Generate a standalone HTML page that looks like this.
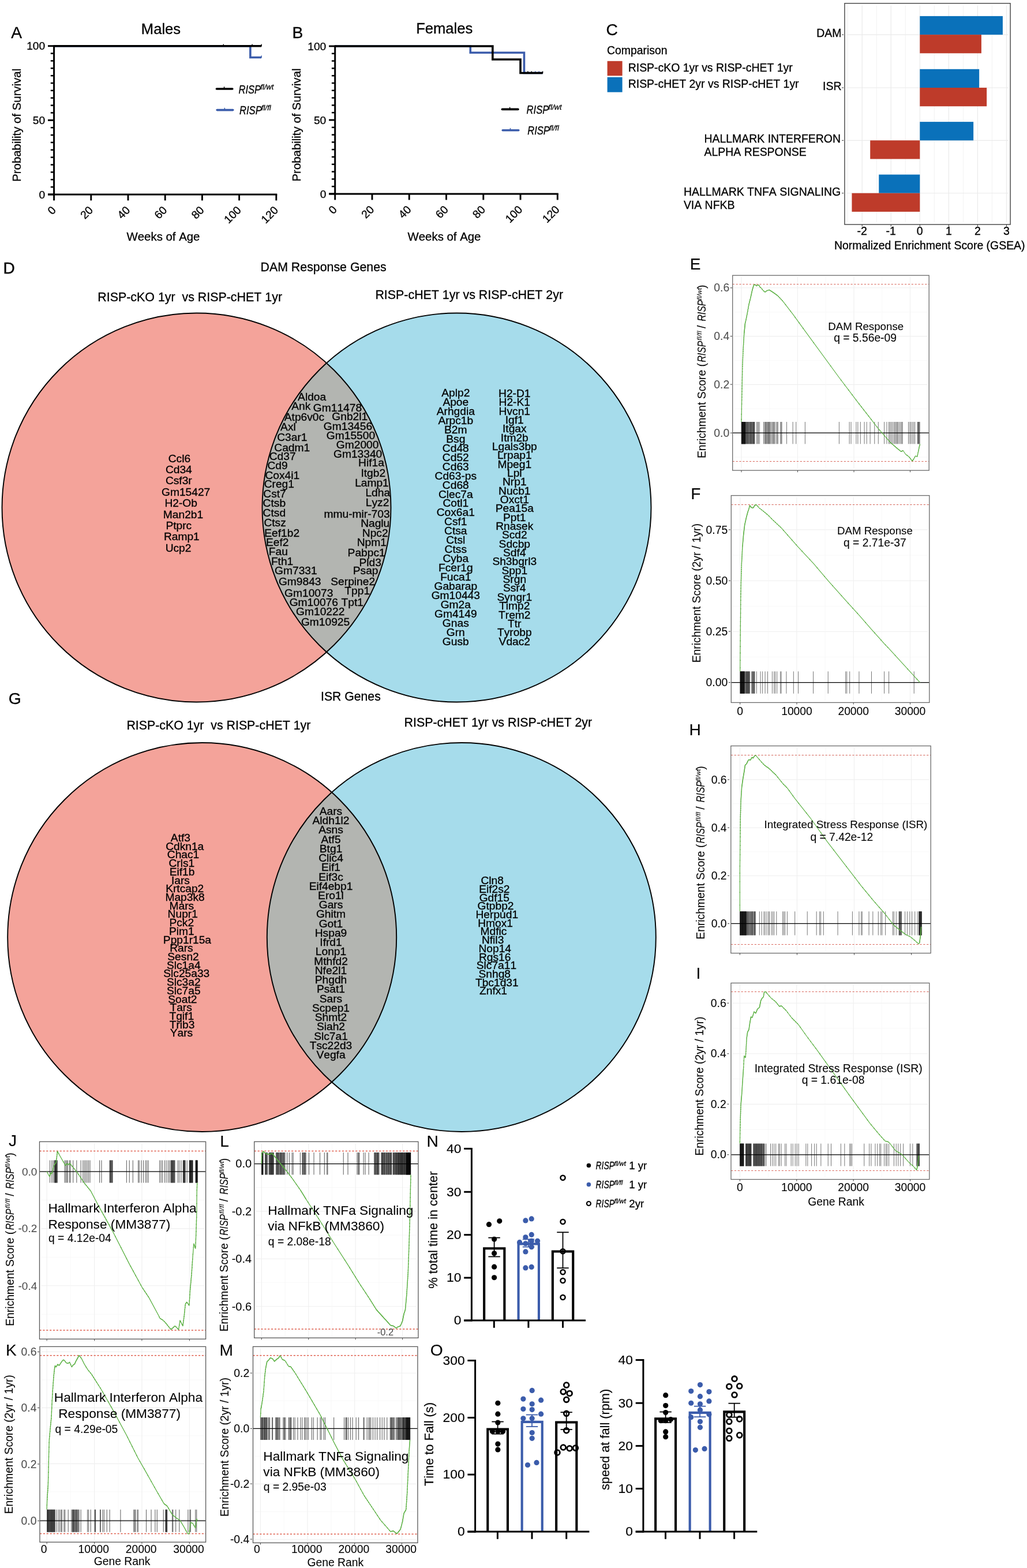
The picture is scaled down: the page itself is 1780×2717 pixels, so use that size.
<!DOCTYPE html>
<html lang="en">
<head>
<meta charset="utf-8">
<title>Figure</title>
<style>
html,body{margin:0;padding:0;background:#fff;}
body{width:1780px;height:2717px;overflow:hidden;font-family:"Liberation Sans",sans-serif;}
svg{display:block;}
svg text{font-family:"Liberation Sans",sans-serif;font-kerning:none;stroke:#000;stroke-width:.3px;}
svg text.g{stroke:#4d4d4d;}
svg .th text{stroke-width:.06px;}
svg .th2 text{stroke-width:.15px;}
.it{font-style:italic;}
</style>
</head>
<body>
<svg width="1780" height="2717" viewBox="0 0 1780 2717">
<rect width="1780" height="2717" fill="#fff"/>
<g>
<text x="19.2" y="66.45" font-size="28.2">A</text>
<text x="279" y="58.5" font-size="25.6" text-anchor="middle">Males</text>
<path d="M93.6,79.7 L433.86,79.7 L433.86,99.5 L453.12,99.5" fill="none" stroke="#3B5CAB" stroke-width="3.6" stroke-linejoin="miter"/>
<line x1="453.12" y1="96.3" x2="453.12" y2="100" stroke="#3B5CAB" stroke-width="1.4"/>
<path d="M93.6,79.7 L453.12,79.7" fill="none" stroke="#000" stroke-width="3.6" stroke-linejoin="miter"/>
<line x1="387.32" y1="76.5" x2="387.32" y2="80.2" stroke="#000" stroke-width="1.4"/>
<line x1="437.07" y1="76.5" x2="437.07" y2="80.2" stroke="#000" stroke-width="1.4"/>
<line x1="453.12" y1="76.5" x2="453.12" y2="80.2" stroke="#000" stroke-width="1.4"/>
<line x1="93.6" y1="78.2" x2="93.6" y2="338.4" stroke="#000" stroke-width="3"/>
<line x1="83" y1="336.9" x2="480.3" y2="336.9" stroke="#000" stroke-width="3"/>
<line x1="83" y1="336.9" x2="93.6" y2="336.9" stroke="#000" stroke-width="2.9"/>
<line x1="87.8" y1="324.04" x2="93.6" y2="324.04" stroke="#000" stroke-width="2.5"/>
<line x1="87.8" y1="311.18" x2="93.6" y2="311.18" stroke="#000" stroke-width="2.5"/>
<line x1="87.8" y1="298.32" x2="93.6" y2="298.32" stroke="#000" stroke-width="2.5"/>
<line x1="87.8" y1="285.46" x2="93.6" y2="285.46" stroke="#000" stroke-width="2.5"/>
<line x1="87.8" y1="272.6" x2="93.6" y2="272.6" stroke="#000" stroke-width="2.5"/>
<line x1="87.8" y1="259.74" x2="93.6" y2="259.74" stroke="#000" stroke-width="2.5"/>
<line x1="87.8" y1="246.88" x2="93.6" y2="246.88" stroke="#000" stroke-width="2.5"/>
<line x1="87.8" y1="234.02" x2="93.6" y2="234.02" stroke="#000" stroke-width="2.5"/>
<line x1="87.8" y1="221.16" x2="93.6" y2="221.16" stroke="#000" stroke-width="2.5"/>
<line x1="83" y1="208.3" x2="93.6" y2="208.3" stroke="#000" stroke-width="2.9"/>
<line x1="87.8" y1="195.44" x2="93.6" y2="195.44" stroke="#000" stroke-width="2.5"/>
<line x1="87.8" y1="182.58" x2="93.6" y2="182.58" stroke="#000" stroke-width="2.5"/>
<line x1="87.8" y1="169.72" x2="93.6" y2="169.72" stroke="#000" stroke-width="2.5"/>
<line x1="87.8" y1="156.86" x2="93.6" y2="156.86" stroke="#000" stroke-width="2.5"/>
<line x1="87.8" y1="144" x2="93.6" y2="144" stroke="#000" stroke-width="2.5"/>
<line x1="87.8" y1="131.14" x2="93.6" y2="131.14" stroke="#000" stroke-width="2.5"/>
<line x1="87.8" y1="118.28" x2="93.6" y2="118.28" stroke="#000" stroke-width="2.5"/>
<line x1="87.8" y1="105.42" x2="93.6" y2="105.42" stroke="#000" stroke-width="2.5"/>
<line x1="87.8" y1="92.56" x2="93.6" y2="92.56" stroke="#000" stroke-width="2.5"/>
<line x1="83" y1="79.7" x2="93.6" y2="79.7" stroke="#000" stroke-width="2.9"/>
<text x="78.2" y="343.6" font-size="19.2" text-anchor="end">0</text>
<text x="78.2" y="215" font-size="19.2" text-anchor="end">50</text>
<text x="78.2" y="86.4" font-size="19.2" text-anchor="end">100</text>
<line x1="93.6" y1="336.9" x2="93.6" y2="347.4" stroke="#000" stroke-width="2.9"/>
<text transform="translate(98.1,365.4) rotate(-45)" font-size="19.3" text-anchor="end">0</text>
<line x1="157.8" y1="336.9" x2="157.8" y2="347.4" stroke="#000" stroke-width="2.9"/>
<text transform="translate(162.3,365.4) rotate(-45)" font-size="19.3" text-anchor="end">20</text>
<line x1="222" y1="336.9" x2="222" y2="347.4" stroke="#000" stroke-width="2.9"/>
<text transform="translate(226.5,365.4) rotate(-45)" font-size="19.3" text-anchor="end">40</text>
<line x1="286.2" y1="336.9" x2="286.2" y2="347.4" stroke="#000" stroke-width="2.9"/>
<text transform="translate(290.7,365.4) rotate(-45)" font-size="19.3" text-anchor="end">60</text>
<line x1="350.4" y1="336.9" x2="350.4" y2="347.4" stroke="#000" stroke-width="2.9"/>
<text transform="translate(354.9,365.4) rotate(-45)" font-size="19.3" text-anchor="end">80</text>
<line x1="414.6" y1="336.9" x2="414.6" y2="347.4" stroke="#000" stroke-width="2.9"/>
<text transform="translate(419.1,365.4) rotate(-45)" font-size="19.3" text-anchor="end">100</text>
<line x1="478.8" y1="336.9" x2="478.8" y2="347.4" stroke="#000" stroke-width="2.9"/>
<text transform="translate(483.3,365.4) rotate(-45)" font-size="19.3" text-anchor="end">120</text>
<text transform="translate(35.5,216.8) rotate(-90)" font-size="20.4" text-anchor="middle">Probability of Survival</text>
<text x="283" y="417.3" font-size="20.4" text-anchor="middle">Weeks of Age</text>
<line x1="375.4" y1="154" x2="402.8" y2="154" stroke="#000" stroke-width="3.6" stroke-linecap="round"/>
<line x1="388.55" y1="150.2" x2="388.55" y2="154" stroke="#000" stroke-width="1.5"/>
<line x1="376.2" y1="190.6" x2="403.7" y2="190.6" stroke="#3B5CAB" stroke-width="3.6" stroke-linecap="round"/>
<line x1="389.35" y1="186.8" x2="389.35" y2="190.6" stroke="#3B5CAB" stroke-width="1.5"/>
<text transform="translate(413.4,161.75) scale(0.795,1)" font-size="20.9" font-style="italic">RISP</text>
<text x="451.4" y="154.69" font-size="12.7" font-style="italic" letter-spacing="0.1">fl/wt</text>
<text transform="translate(415,197.7) scale(0.795,1)" font-size="20.9" font-style="italic">RISP</text>
<text x="453" y="190.64" font-size="12.7" font-style="italic" letter-spacing="0.1">fl/fl</text>
</g>
<g>
<text x="506.6" y="66.3" font-size="28.2">B</text>
<text x="770.2" y="58.4" font-size="25.6" text-anchor="middle">Females</text>
<path d="M580.7,80 L815.27,80 L815.27,91.26 L908.46,91.26 L908.46,126.57 L940.59,126.57" fill="none" stroke="#3B5CAB" stroke-width="3.6" stroke-linejoin="miter"/>
<line x1="927.74" y1="123.37" x2="927.74" y2="127.07" stroke="#3B5CAB" stroke-width="1.4"/>
<line x1="934.17" y1="123.37" x2="934.17" y2="127.07" stroke="#3B5CAB" stroke-width="1.4"/>
<path d="M580.7,80 L853.83,80 L853.83,103.03 L902.03,103.03 L902.03,126.57 L940.59,126.57" fill="none" stroke="#000" stroke-width="3.6" stroke-linejoin="miter"/>
<line x1="914.89" y1="123.37" x2="914.89" y2="127.07" stroke="#000" stroke-width="1.4"/>
<line x1="921.31" y1="123.37" x2="921.31" y2="127.07" stroke="#000" stroke-width="1.4"/>
<line x1="940.59" y1="123.37" x2="940.59" y2="127.07" stroke="#000" stroke-width="1.4"/>
<line x1="580.7" y1="78.5" x2="580.7" y2="337.4" stroke="#000" stroke-width="3"/>
<line x1="570.1" y1="335.9" x2="967.8" y2="335.9" stroke="#000" stroke-width="3"/>
<line x1="570.1" y1="335.9" x2="580.7" y2="335.9" stroke="#000" stroke-width="2.9"/>
<line x1="574.9" y1="323.1" x2="580.7" y2="323.1" stroke="#000" stroke-width="2.5"/>
<line x1="574.9" y1="310.31" x2="580.7" y2="310.31" stroke="#000" stroke-width="2.5"/>
<line x1="574.9" y1="297.51" x2="580.7" y2="297.51" stroke="#000" stroke-width="2.5"/>
<line x1="574.9" y1="284.72" x2="580.7" y2="284.72" stroke="#000" stroke-width="2.5"/>
<line x1="574.9" y1="271.92" x2="580.7" y2="271.92" stroke="#000" stroke-width="2.5"/>
<line x1="574.9" y1="259.13" x2="580.7" y2="259.13" stroke="#000" stroke-width="2.5"/>
<line x1="574.9" y1="246.33" x2="580.7" y2="246.33" stroke="#000" stroke-width="2.5"/>
<line x1="574.9" y1="233.54" x2="580.7" y2="233.54" stroke="#000" stroke-width="2.5"/>
<line x1="574.9" y1="220.75" x2="580.7" y2="220.75" stroke="#000" stroke-width="2.5"/>
<line x1="570.1" y1="207.95" x2="580.7" y2="207.95" stroke="#000" stroke-width="2.9"/>
<line x1="574.9" y1="195.16" x2="580.7" y2="195.16" stroke="#000" stroke-width="2.5"/>
<line x1="574.9" y1="182.36" x2="580.7" y2="182.36" stroke="#000" stroke-width="2.5"/>
<line x1="574.9" y1="169.56" x2="580.7" y2="169.56" stroke="#000" stroke-width="2.5"/>
<line x1="574.9" y1="156.77" x2="580.7" y2="156.77" stroke="#000" stroke-width="2.5"/>
<line x1="574.9" y1="143.97" x2="580.7" y2="143.97" stroke="#000" stroke-width="2.5"/>
<line x1="574.9" y1="131.18" x2="580.7" y2="131.18" stroke="#000" stroke-width="2.5"/>
<line x1="574.9" y1="118.38" x2="580.7" y2="118.38" stroke="#000" stroke-width="2.5"/>
<line x1="574.9" y1="105.59" x2="580.7" y2="105.59" stroke="#000" stroke-width="2.5"/>
<line x1="574.9" y1="92.8" x2="580.7" y2="92.8" stroke="#000" stroke-width="2.5"/>
<line x1="570.1" y1="80" x2="580.7" y2="80" stroke="#000" stroke-width="2.9"/>
<text x="565.3" y="342.6" font-size="19.2" text-anchor="end">0</text>
<text x="565.3" y="214.65" font-size="19.2" text-anchor="end">50</text>
<text x="565.3" y="86.7" font-size="19.2" text-anchor="end">100</text>
<line x1="580.7" y1="335.9" x2="580.7" y2="346.4" stroke="#000" stroke-width="2.9"/>
<text transform="translate(585.2,364.4) rotate(-45)" font-size="19.3" text-anchor="end">0</text>
<line x1="644.97" y1="335.9" x2="644.97" y2="346.4" stroke="#000" stroke-width="2.9"/>
<text transform="translate(649.47,364.4) rotate(-45)" font-size="19.3" text-anchor="end">20</text>
<line x1="709.23" y1="335.9" x2="709.23" y2="346.4" stroke="#000" stroke-width="2.9"/>
<text transform="translate(713.73,364.4) rotate(-45)" font-size="19.3" text-anchor="end">40</text>
<line x1="773.5" y1="335.9" x2="773.5" y2="346.4" stroke="#000" stroke-width="2.9"/>
<text transform="translate(778,364.4) rotate(-45)" font-size="19.3" text-anchor="end">60</text>
<line x1="837.77" y1="335.9" x2="837.77" y2="346.4" stroke="#000" stroke-width="2.9"/>
<text transform="translate(842.27,364.4) rotate(-45)" font-size="19.3" text-anchor="end">80</text>
<line x1="902.03" y1="335.9" x2="902.03" y2="346.4" stroke="#000" stroke-width="2.9"/>
<text transform="translate(906.53,364.4) rotate(-45)" font-size="19.3" text-anchor="end">100</text>
<line x1="966.3" y1="335.9" x2="966.3" y2="346.4" stroke="#000" stroke-width="2.9"/>
<text transform="translate(970.8,364.4) rotate(-45)" font-size="19.3" text-anchor="end">120</text>
<text transform="translate(521,216.45) rotate(-90)" font-size="20.4" text-anchor="middle">Probability of Survival</text>
<text x="770" y="416.9" font-size="20.4" text-anchor="middle">Weeks of Age</text>
<line x1="870.4" y1="189.4" x2="897.9" y2="189.4" stroke="#000" stroke-width="3.6" stroke-linecap="round"/>
<line x1="883.6" y1="185.6" x2="883.6" y2="189.4" stroke="#000" stroke-width="1.5"/>
<line x1="871.2" y1="225.7" x2="898.8" y2="225.7" stroke="#3B5CAB" stroke-width="3.6" stroke-linecap="round"/>
<line x1="884.4" y1="221.9" x2="884.4" y2="225.7" stroke="#3B5CAB" stroke-width="1.5"/>
<text transform="translate(912.6,196.9) scale(0.795,1)" font-size="20.9" font-style="italic">RISP</text>
<text x="950.6" y="189.84" font-size="12.7" font-style="italic" letter-spacing="0.1">fl/wt</text>
<text transform="translate(914.2,232.9) scale(0.795,1)" font-size="20.9" font-style="italic">RISP</text>
<text x="952.2" y="225.84" font-size="12.7" font-style="italic" letter-spacing="0.1">fl/fl</text>
</g>
<g>
<text x="1050.4" y="61.4" font-size="28.2">C</text>
<text x="1052" y="93.8" font-size="19.4">Comparison</text>
<rect x="1052.6" y="105.8" width="26" height="25.5" fill="#BE3B2A"/>
<rect x="1052.6" y="133.7" width="26" height="26" fill="#0A71BA"/>
<text x="1088.7" y="124.1" font-size="19.45">RISP-cKO 1yr vs RISP-cHET 1yr</text>
<text x="1088.7" y="151.5" font-size="19.45">RISP-cHET 2yr vs RISP-cHET 1yr</text>
<line x1="1469.17" y1="9.4" x2="1469.17" y2="385.4" stroke="#F1F1F1" stroke-width="0.9"/>
<line x1="1519.22" y1="9.4" x2="1519.22" y2="385.4" stroke="#F1F1F1" stroke-width="0.9"/>
<line x1="1569.27" y1="9.4" x2="1569.27" y2="385.4" stroke="#F1F1F1" stroke-width="0.9"/>
<line x1="1619.33" y1="9.4" x2="1619.33" y2="385.4" stroke="#F1F1F1" stroke-width="0.9"/>
<line x1="1669.38" y1="9.4" x2="1669.38" y2="385.4" stroke="#F1F1F1" stroke-width="0.9"/>
<line x1="1719.42" y1="9.4" x2="1719.42" y2="385.4" stroke="#F1F1F1" stroke-width="0.9"/>
<line x1="1494.2" y1="9.4" x2="1494.2" y2="385.4" stroke="#EAEAEA" stroke-width="1.15"/>
<line x1="1544.25" y1="9.4" x2="1544.25" y2="385.4" stroke="#EAEAEA" stroke-width="1.15"/>
<line x1="1594.3" y1="9.4" x2="1594.3" y2="385.4" stroke="#EAEAEA" stroke-width="1.15"/>
<line x1="1644.35" y1="9.4" x2="1644.35" y2="385.4" stroke="#EAEAEA" stroke-width="1.15"/>
<line x1="1694.4" y1="9.4" x2="1694.4" y2="385.4" stroke="#EAEAEA" stroke-width="1.15"/>
<line x1="1744.45" y1="9.4" x2="1744.45" y2="385.4" stroke="#EAEAEA" stroke-width="1.15"/>
<line x1="1467.5" y1="60.1" x2="1747.5" y2="60.1" stroke="#EAEAEA" stroke-width="1.15"/>
<line x1="1467.5" y1="152" x2="1747.5" y2="152" stroke="#EAEAEA" stroke-width="1.15"/>
<line x1="1467.5" y1="243.3" x2="1747.5" y2="243.3" stroke="#EAEAEA" stroke-width="1.15"/>
<line x1="1467.5" y1="334.7" x2="1747.5" y2="334.7" stroke="#EAEAEA" stroke-width="1.15"/>
<rect x="1594.3" y="27.9" width="143.64" height="32.2" fill="#0A71BA"/>
<rect x="1594.3" y="60.1" width="106.61" height="32.2" fill="#BE3B2A"/>
<rect x="1594.3" y="119.8" width="102.85" height="32.2" fill="#0A71BA"/>
<rect x="1594.3" y="152" width="115.87" height="32.2" fill="#BE3B2A"/>
<rect x="1594.3" y="211.1" width="92.84" height="32.2" fill="#0A71BA"/>
<rect x="1508.21" y="243.3" width="86.09" height="32.2" fill="#BE3B2A"/>
<rect x="1523.23" y="302.5" width="71.07" height="32.2" fill="#0A71BA"/>
<rect x="1476.43" y="334.7" width="117.87" height="32.2" fill="#BE3B2A"/>
<rect x="1463.9" y="5.8" width="287.2" height="383.2" fill="none" stroke="#333" stroke-width="1.3"/>
<line x1="1494.2" y1="389" x2="1494.2" y2="392.5" stroke="#333" stroke-width="1"/>
<text x="1494.2" y="406.9" font-size="19.5" text-anchor="middle">-2</text>
<line x1="1544.25" y1="389" x2="1544.25" y2="392.5" stroke="#333" stroke-width="1"/>
<text x="1544.25" y="406.9" font-size="19.5" text-anchor="middle">-1</text>
<line x1="1594.3" y1="389" x2="1594.3" y2="392.5" stroke="#333" stroke-width="1"/>
<text x="1594.3" y="406.9" font-size="19.5" text-anchor="middle">0</text>
<line x1="1644.35" y1="389" x2="1644.35" y2="392.5" stroke="#333" stroke-width="1"/>
<text x="1644.35" y="406.9" font-size="19.5" text-anchor="middle">1</text>
<line x1="1694.4" y1="389" x2="1694.4" y2="392.5" stroke="#333" stroke-width="1"/>
<text x="1694.4" y="406.9" font-size="19.5" text-anchor="middle">2</text>
<line x1="1744.45" y1="389" x2="1744.45" y2="392.5" stroke="#333" stroke-width="1"/>
<text x="1744.45" y="406.9" font-size="19.5" text-anchor="middle">3</text>
<line x1="1459.1" y1="60.1" x2="1462.1" y2="60.1" stroke="#333" stroke-width="1"/>
<line x1="1459.1" y1="152" x2="1462.1" y2="152" stroke="#333" stroke-width="1"/>
<line x1="1459.1" y1="243.3" x2="1462.1" y2="243.3" stroke="#333" stroke-width="1"/>
<line x1="1459.1" y1="334.7" x2="1462.1" y2="334.7" stroke="#333" stroke-width="1"/>
<text x="1458.5" y="63.5" font-size="19.45" text-anchor="end">DAM</text>
<text x="1458.5" y="156.3" font-size="19.45" text-anchor="end">ISR</text>
<text x="1220.5" y="247.1" font-size="19.45">HALLMARK INTERFERON</text>
<text x="1220.5" y="270.2" font-size="19.45">ALPHA RESPONSE</text>
<text x="1184.9" y="338.5" font-size="19.45">HALLMARK TNFA SIGNALING</text>
<text x="1184.9" y="361.6" font-size="19.45">VIA NFKB</text>
<text x="1611.3" y="431.9" font-size="19.45" text-anchor="middle">Normalized Enrichment Score (GSEA)</text>
</g>
<g>
<text x="5.5" y="473.8" font-size="28.2">D</text>
<text x="451.5" y="470.4" font-size="21.35">DAM Response Genes</text>
<text x="169.3" y="522.4" font-size="21.4" xml:space="preserve">RISP-cKO 1yr  vs RISP-cHET 1yr</text>
<text x="650.4" y="517.8" font-size="21.4">RISP-cHET 1yr vs RISP-cHET 2yr</text>
<circle cx="340.5" cy="879.5" r="337" fill="#F4A39A"/>
<circle cx="791.5" cy="879.5" r="337" fill="#A6DCEB"/>
<path d="M566,629.06 A337,337 0 0 1 566,1129.94 A337,337 0 0 1 566,629.06 Z" fill="#B3B5B1"/>
<circle cx="340.5" cy="879.5" r="337" fill="none" stroke="#000" stroke-width="1.9"/>
<circle cx="791.5" cy="879.5" r="337" fill="none" stroke="#000" stroke-width="1.9"/>
<g font-size="19.2" text-anchor="middle">
<text x="310.97" y="800.6">Ccl6</text>
<text x="309.82" y="820">Cd34</text>
<text x="309.82" y="839.4">Csf3r</text>
<text x="322.13" y="858.8">Gm15427</text>
<text x="313.67" y="878.2">H2-Ob</text>
<text x="317.52" y="897.6">Man2b1</text>
<text x="309.82" y="917">Ptprc</text>
<text x="314.82" y="936.4">Ramp1</text>
<text x="309.05" y="955.8">Ucp2</text>
</g>
<g font-size="19.2" text-anchor="middle">
<text x="789.8" y="687.2">Aplp2</text>
<text x="789.8" y="703.14">Apoe</text>
<text x="789.8" y="719.08">Arhgdia</text>
<text x="789.8" y="735.02">Arpc1b</text>
<text x="789.8" y="750.96">B2m</text>
<text x="789.8" y="766.9">Bsg</text>
<text x="789.8" y="782.84">Cd48</text>
<text x="789.8" y="798.78">Cd52</text>
<text x="789.8" y="814.72">Cd63</text>
<text x="789.8" y="830.66">Cd63-ps</text>
<text x="789.8" y="846.6">Cd68</text>
<text x="789.8" y="862.54">Clec7a</text>
<text x="789.8" y="878.48">Cotl1</text>
<text x="789.8" y="894.42">Cox6a1</text>
<text x="789.8" y="910.36">Csf1</text>
<text x="789.8" y="926.3">Ctsa</text>
<text x="789.8" y="942.24">Ctsl</text>
<text x="789.8" y="958.18">Ctss</text>
<text x="789.8" y="974.12">Cyba</text>
<text x="789.8" y="990.06">Fcer1g</text>
<text x="789.8" y="1006">Fuca1</text>
<text x="789.8" y="1021.94">Gabarap</text>
<text x="789.8" y="1037.88">Gm10443</text>
<text x="789.8" y="1053.82">Gm2a</text>
<text x="789.8" y="1069.76">Gm4149</text>
<text x="789.8" y="1085.7">Gnas</text>
<text x="789.8" y="1101.64">Grn</text>
<text x="789.8" y="1117.58">Gusb</text>
</g>
<g font-size="19.2" text-anchor="middle">
<text x="891.8" y="688">H2-D1</text>
<text x="891.8" y="703.34">H2-K1</text>
<text x="891.8" y="718.68">Hvcn1</text>
<text x="891.8" y="734.02">Igf1</text>
<text x="891.8" y="749.36">Itgax</text>
<text x="891.8" y="764.7">Itm2b</text>
<text x="891.8" y="780.04">Lgals3bp</text>
<text x="891.8" y="795.38">Lrpap1</text>
<text x="891.8" y="810.72">Mpeg1</text>
<text x="891.8" y="826.06">Lpl</text>
<text x="891.8" y="841.4">Nrp1</text>
<text x="891.8" y="856.74">Nucb1</text>
<text x="891.8" y="872.08">Oxct1</text>
<text x="891.8" y="887.42">Pea15a</text>
<text x="891.8" y="902.76">Ppt1</text>
<text x="891.8" y="918.1">Rnasek</text>
<text x="891.8" y="933.44">Scd2</text>
<text x="891.8" y="948.78">Sdcbp</text>
<text x="891.8" y="964.12">Sdf4</text>
<text x="891.8" y="979.46">Sh3bgrl3</text>
<text x="891.8" y="994.8">Spp1</text>
<text x="891.8" y="1010.14">Srgn</text>
<text x="891.8" y="1025.48">Ssr4</text>
<text x="891.8" y="1040.82">Syngr1</text>
<text x="891.8" y="1056.16">Timp2</text>
<text x="891.8" y="1071.5">Trem2</text>
<text x="891.8" y="1086.84">Ttr</text>
<text x="891.8" y="1102.18">Tyrobp</text>
<text x="891.8" y="1117.52">Vdac2</text>
</g>
<g font-size="19.2" text-anchor="start">
<text x="516.1" y="694.2">Aldoa</text>
<text x="505.3" y="710.4">Ank</text>
<text x="492.8" y="729.2">Atp6v0c</text>
<text x="486.1" y="746.3">Axl</text>
<text x="480.2" y="764.3">C3ar1</text>
<text x="475.3" y="781.9">Cadm1</text>
<text x="466.7" y="796.6">Cd37</text>
<text x="463.5" y="812.8">Cd9</text>
<text x="459.5" y="829.8">Cox4i1</text>
<text x="457.7" y="845.1">Creg1</text>
<text x="456.3" y="862.1">Cst7</text>
<text x="455.6" y="877.9">Ctsb</text>
<text x="455.6" y="895.2">Ctsd</text>
<text x="457.4" y="912.3">Ctsz</text>
<text x="458.3" y="929.9">Eef1b2</text>
<text x="461" y="945.9">Eef2</text>
<text x="465.8" y="962.1">Fau</text>
<text x="469.9" y="978.8">Fth1</text>
<text x="476.1" y="995.3">Gm7331</text>
<text x="482.9" y="1013.8">Gm9843</text>
<text x="493.1" y="1033.5">Gm10073</text>
<text x="501.7" y="1050.2">Gm10076</text>
<text x="513.1" y="1066.4">Gm10222</text>
<text x="521.9" y="1084.2">Gm10925</text>
</g>
<g font-size="19.2" text-anchor="end">
<text x="627.1" y="712.5">Gm11478</text>
<text x="637.2" y="728.3">Gnb2l1</text>
<text x="645.1" y="744.5">Gm13456</text>
<text x="650.1" y="760.7">Gm15500</text>
<text x="656.4" y="776.8">Gm2000</text>
<text x="662.3" y="792.5">Gm13340</text>
<text x="665.9" y="808.3">Hif1a</text>
<text x="668.1" y="826.2">Itgb2</text>
<text x="673.8" y="843.3">Lamp1</text>
<text x="676.1" y="860.4">Ldha</text>
<text x="674.4" y="876.5">Lyz2</text>
<text x="675.6" y="897">mmu-mir-703</text>
<text x="675.3" y="912.8">Naglu</text>
<text x="672.6" y="929.9">Npc2</text>
<text x="669.9" y="946.4">Npm1</text>
<text x="667.7" y="963.5">Pabpc1</text>
<text x="660.9" y="980.6">Pld3</text>
<text x="655.5" y="995.3">Psap</text>
<text x="650.1" y="1013.8">Serpine2</text>
<text x="641.1" y="1029.9">Tpp1</text>
<text x="630" y="1049.7">Tpt1</text>
</g>
</g>
<g>
<text x="14.7" y="1220.2" font-size="28.2">G</text>
<text x="556.1" y="1213.9" font-size="21.2">ISR Genes</text>
<text x="219.4" y="1263.9" font-size="21.35" xml:space="preserve">RISP-cKO 1yr  vs RISP-cHET 1yr</text>
<text x="700.5" y="1258.9" font-size="21.4">RISP-cHET 1yr vs RISP-cHET 2yr</text>
<circle cx="350.2" cy="1624" r="337" fill="#F4A39A"/>
<circle cx="799.8" cy="1624" r="337" fill="#A6DCEB"/>
<path d="M575,1372.93 A337,337 0 0 1 575,1875.07 A337,337 0 0 1 575,1372.93 Z" fill="#B3B5B1"/>
<circle cx="350.2" cy="1624" r="337" fill="none" stroke="#000" stroke-width="1.9"/>
<circle cx="799.8" cy="1624" r="337" fill="none" stroke="#000" stroke-width="1.9"/>
<g font-size="19.2" text-anchor="middle">
<text x="312.9" y="1458">Atf3</text>
<text x="320.21" y="1472.71">Cdkn1a</text>
<text x="317.52" y="1487.43">Chac1</text>
<text x="314.82" y="1502.14">Crls1</text>
<text x="315.59" y="1516.85">Eif1b</text>
<text x="312.9" y="1531.57">Iars</text>
<text x="320.21" y="1546.28">Krtcap2</text>
<text x="320.59" y="1560.99">Map3k8</text>
<text x="314.82" y="1575.7">Mars</text>
<text x="316.75" y="1590.42">Nupr1</text>
<text x="314.82" y="1605.13">Pck2</text>
<text x="314.82" y="1619.84">Pim1</text>
<text x="324.44" y="1634.56">Ppp1r15a</text>
<text x="314.44" y="1649.27">Rars</text>
<text x="317.52" y="1663.98">Sesn2</text>
<text x="318.29" y="1678.69">Slc1a4</text>
<text x="323.29" y="1693.41">Slc25a33</text>
<text x="318.29" y="1708.12">Slc3a2</text>
<text x="318.29" y="1722.83">Slc7a5</text>
<text x="316.36" y="1737.55">Soat2</text>
<text x="313.67" y="1752.26">Tars</text>
<text x="314.82" y="1766.97">Tgif1</text>
<text x="315.59" y="1781.69">Trib3</text>
<text x="314.44" y="1796.4">Yars</text>
</g>
<g font-size="19.2" text-anchor="middle">
<text x="573.5" y="1411.8">Aars</text>
<text x="573.5" y="1428.04">Aldh1l2</text>
<text x="573.5" y="1444.29">Asns</text>
<text x="573.5" y="1460.53">Atf5</text>
<text x="573.5" y="1476.77">Btg1</text>
<text x="573.5" y="1493.01">Clic4</text>
<text x="573.5" y="1509.26">Eif1</text>
<text x="573.5" y="1525.5">Eif3c</text>
<text x="573.5" y="1541.74">Eif4ebp1</text>
<text x="573.5" y="1557.99">Ero1l</text>
<text x="573.5" y="1574.23">Gars</text>
<text x="573.5" y="1590.47">Ghitm</text>
<text x="573.5" y="1606.72">Got1</text>
<text x="573.5" y="1622.96">Hspa9</text>
<text x="573.5" y="1639.2">Ifrd1</text>
<text x="573.5" y="1655.44">Lonp1</text>
<text x="573.5" y="1671.69">Mthfd2</text>
<text x="573.5" y="1687.93">Nfe2l1</text>
<text x="573.5" y="1704.17">Phgdh</text>
<text x="573.5" y="1720.42">Psat1</text>
<text x="573.5" y="1736.66">Sars</text>
<text x="573.5" y="1752.9">Scpep1</text>
<text x="573.5" y="1769.15">Shmt2</text>
<text x="573.5" y="1785.39">Siah2</text>
<text x="573.5" y="1801.63">Slc7a1</text>
<text x="573.5" y="1817.88">Tsc22d3</text>
<text x="573.5" y="1834.12">Vegfa</text>
</g>
<g font-size="19.2" text-anchor="middle">
<text x="853.23" y="1532.3">Cln8</text>
<text x="856.82" y="1546.99">Eif2s2</text>
<text x="856.82" y="1561.68">Gdf15</text>
<text x="859.07" y="1576.37">Gtpbp2</text>
<text x="861.31" y="1591.06">Herpud1</text>
<text x="858.62" y="1605.75">Hmox1</text>
<text x="855.48" y="1620.44">Mdfic</text>
<text x="854.13" y="1635.13">Nfil3</text>
<text x="857.72" y="1649.82">Nop14</text>
<text x="857.72" y="1664.51">Rgs16</text>
<text x="860.42" y="1679.2">Slc7a11</text>
<text x="857.27" y="1693.89">Snhg8</text>
<text x="861.31" y="1708.58">Tbc1d31</text>
<text x="855.03" y="1723.27">Znfx1</text>
</g>
</g>
<g class="th">
<line x1="1272.5" y1="540.7" x2="1607.4" y2="540.7" stroke="#F6F6F6" stroke-width="0.7"/>
<line x1="1272.5" y1="624.5" x2="1607.4" y2="624.5" stroke="#F6F6F6" stroke-width="0.7"/>
<line x1="1272.5" y1="708.3" x2="1607.4" y2="708.3" stroke="#F6F6F6" stroke-width="0.7"/>
<line x1="1272.5" y1="792.1" x2="1607.4" y2="792.1" stroke="#F6F6F6" stroke-width="0.7"/>
<line x1="1272.5" y1="498.8" x2="1607.4" y2="498.8" stroke="#EFEFEF" stroke-width="1.1"/>
<line x1="1272.5" y1="582.6" x2="1607.4" y2="582.6" stroke="#EFEFEF" stroke-width="1.1"/>
<line x1="1272.5" y1="666.4" x2="1607.4" y2="666.4" stroke="#EFEFEF" stroke-width="1.1"/>
<line x1="1272.5" y1="750.2" x2="1607.4" y2="750.2" stroke="#EFEFEF" stroke-width="1.1"/>
<line x1="1333.75" y1="480" x2="1333.75" y2="812.3" stroke="#F6F6F6" stroke-width="0.7"/>
<line x1="1431.25" y1="480" x2="1431.25" y2="812.3" stroke="#F6F6F6" stroke-width="0.7"/>
<line x1="1528.75" y1="480" x2="1528.75" y2="812.3" stroke="#F6F6F6" stroke-width="0.7"/>
<line x1="1285" y1="480" x2="1285" y2="812.3" stroke="#EFEFEF" stroke-width="1.1"/>
<line x1="1382.5" y1="480" x2="1382.5" y2="812.3" stroke="#EFEFEF" stroke-width="1.1"/>
<line x1="1480" y1="480" x2="1480" y2="812.3" stroke="#EFEFEF" stroke-width="1.1"/>
<line x1="1577.5" y1="480" x2="1577.5" y2="812.3" stroke="#EFEFEF" stroke-width="1.1"/>
<line x1="1269.7" y1="492.5" x2="1610.2" y2="492.5" stroke="#D9665A" stroke-width="1.15" stroke-dasharray="3.2 2.65"/>
<line x1="1269.7" y1="799.5" x2="1610.2" y2="799.5" stroke="#D9665A" stroke-width="1.15" stroke-dasharray="3.2 2.65"/>
<line x1="1269.7" y1="750.2" x2="1610.2" y2="750.2" stroke="#000" stroke-width="1.25"/>
<path d="M1285.08,731V769.3M1286.27,731V769.3M1287.25,731V769.3M1288.52,731V769.3M1289.46,731V769.3M1290.5,731V769.3M1291.64,731V769.3M1293.64,731V769.3M1296,731V769.3M1298.89,731V769.3M1301.48,731V769.3M1303.81,731V769.3M1306.37,731V769.3M1311.45,731V769.3M1323.73,731V769.3M1328.11,731V769.3M1332.55,731V769.3M1338.02,731V769.3M1343.08,731V769.3M1353,731V769.3M1374.15,731V769.3M1472.11,731V769.3M1491.29,731V769.3M1515.78,731V769.3M1540.56,731V769.3M1548.83,731V769.3M1555.32,731V769.3M1562.99,731V769.3M1578.92,731V769.3M1590.37,731V769.3M1593.08,731V769.3" stroke="#000" stroke-opacity="0.72" stroke-width="0.75" fill="none"/>
<path d="M1285.54,731V769.3M1286.53,731V769.3M1287.5,731V769.3M1288.58,731V769.3M1289.93,731V769.3M1290.91,731V769.3M1291.97,731V769.3M1294.31,731V769.3M1296.78,731V769.3M1299.34,731V769.3M1302.02,731V769.3M1304.43,731V769.3M1306.9,731V769.3M1313.23,731V769.3M1325.01,731V769.3M1329.56,731V769.3M1333.67,731V769.3M1339.27,731V769.3M1345.47,731V769.3M1353.76,731V769.3M1379.76,731V769.3M1475.06,731V769.3M1498.08,731V769.3M1522.27,731V769.3M1542.33,731V769.3M1550.6,731V769.3M1557.09,731V769.3M1564.17,731V769.3M1581.28,731V769.3M1591.02,731V769.3M1594.15,731V769.3" stroke="#000" stroke-opacity="0.72" stroke-width="0.75" fill="none"/>
<path d="M1285.79,731V769.3M1286.85,731V769.3M1287.99,731V769.3M1288.98,731V769.3M1290.19,731V769.3M1291.29,731V769.3M1292.14,731V769.3M1294.77,731V769.3M1297.3,731V769.3M1300.01,731V769.3M1302.19,731V769.3M1305.19,731V769.3M1307.29,731V769.3M1314.45,731V769.3M1326.65,731V769.3M1330.78,731V769.3M1334.81,731V769.3M1340.85,731V769.3M1347.31,731V769.3M1355.07,731V769.3M1395.39,731V769.3M1483.91,731V769.3M1502.21,731V769.3M1532.6,731V769.3M1544.4,731V769.3M1552.37,731V769.3M1559.15,731V769.3M1574.5,731V769.3M1583.64,731V769.3M1591.67,731V769.3" stroke="#000" stroke-opacity="0.72" stroke-width="0.75" fill="none"/>
<path d="M1285.93,731V769.3M1287.16,731V769.3M1288.16,731V769.3M1289.32,731V769.3M1290.22,731V769.3M1291.41,731V769.3M1292.89,731V769.3M1295.39,731V769.3M1297.75,731V769.3M1300.35,731V769.3M1302.94,731V769.3M1305.49,731V769.3M1308.09,731V769.3M1316.45,731V769.3M1327.3,731V769.3M1331.81,731V769.3M1336.15,731V769.3M1341.63,731V769.3M1348.19,731V769.3M1363.53,731V769.3M1454.41,731V769.3M1486.86,731V769.3M1508.11,731V769.3M1537.02,731V769.3M1546.47,731V769.3M1554.14,731V769.3M1561.22,731V769.3M1576.86,731V769.3M1585.71,731V769.3M1592.77,731V769.3" stroke="#000" stroke-opacity="0.72" stroke-width="0.75" fill="none"/>
<path d="M1285.04,730.96 L1285.63,695.55 L1286.22,666.05 L1286.81,636.54 L1287.99,607.04 L1289.76,577.53 L1291.53,559.83 L1292.71,555.4 L1295.07,543.6 L1298.02,527.37 L1300.97,515.57 L1303.93,502.29 L1306.29,494.32 L1308.35,492.85 L1311.3,495.5 L1313.37,493.73 L1315.73,494.32 L1316.91,497.27 L1318.68,498.45 L1323.1,503.77 L1326.06,506.13 L1329.01,503.77 L1333.43,502.29 L1337.86,505.24 L1342.28,508.19 L1348.18,512.62 L1357.04,522.06 L1374.74,545.07 L1395.39,573.69 L1454.41,654.25 L1486.86,697.03 L1507.52,723.59 L1522.27,742.76 L1542.92,766.37 L1554.73,776.7 L1562.1,782.6 L1565.05,780.53 L1569.48,787.02 L1575.38,791.45 L1581.28,798.83 L1584.23,794.4 L1586.59,789.97 L1589.54,791.45 L1591.61,782.6 L1593.09,775.22 L1594.56,769.32" fill="none" stroke="#5DB145" stroke-width="1.15" stroke-linejoin="round"/>
<path d="M1285.12,726.54h0M1285.26,717.68h0M1285.41,708.83h0M1285.56,699.98h0M1285.68,693.1h0M1285.78,688.18h0M1285.88,683.26h0M1285.98,678.34h0M1286.07,673.43h0M1286.17,668.51h0M1286.27,663.59h0M1286.37,658.67h0M1286.47,653.75h0M1286.57,648.84h0M1286.66,643.92h0M1286.76,639h0M1286.89,634.7h0M1287.03,631.01h0M1287.18,627.32h0M1287.33,623.63h0M1287.48,619.95h0M1287.62,616.26h0M1287.77,612.57h0M1287.92,608.88h0M1288.08,605.56h0M1288.26,602.61h0M1288.43,599.66h0M1288.61,596.71h0M1288.79,593.76h0M1288.97,590.81h0M1289.14,587.86h0M1289.32,584.91h0M1289.5,581.96h0M1289.67,579.01h0M1289.84,576.73h0M1290,575.12h0M1290.17,573.51h0M1290.33,571.9h0M1290.49,570.29h0M1290.65,568.68h0M1290.81,567.07h0M1290.97,565.46h0M1291.13,563.85h0M1291.29,562.24h0M1291.45,560.63h0M1291.83,558.72h0M1292.42,556.51h0M1292.95,554.22h0M1293.42,551.86h0M1293.89,549.5h0M1294.37,547.14h0M1294.84,544.78h0M1295.32,542.25h0M1295.81,539.54h0M1296.3,536.84h0M1296.79,534.13h0M1297.29,531.43h0M1297.78,528.72h0M1298.27,526.39h0M1298.76,524.42h0M1299.25,522.45h0M1299.75,520.49h0M1300.24,518.52h0M1300.73,516.55h0M1301.19,514.62h0M1301.61,512.72h0M1302.03,510.83h0M1302.45,508.93h0M1302.87,507.03h0M1303.29,505.14h0M1303.71,503.24h0M1304.16,501.49h0M1304.63,499.9h0M1305.11,498.31h0M1305.58,496.71h0M1306.05,495.12h0M1307.32,493.59h0M1309.09,493.51h0M1310.56,494.84h0M1312.33,494.62h0M1314.55,494.03h0M1316.32,495.8h0M1317.79,497.86h0M1320.89,501.11h0M1323.84,504.36h0M1325.32,505.54h0M1326.79,505.54h0M1328.27,504.36h0M1330.11,503.4h0M1332.33,502.66h0M1334.17,502.78h0M1335.64,503.77h0M1337.12,504.75h0M1338.6,505.73h0M1340.07,506.72h0M1341.55,507.7h0M1343.02,508.74h0M1344.5,509.85h0M1345.97,510.96h0M1347.45,512.06h0M1349.29,513.8h0M1351.5,516.16h0M1353.72,518.52h0M1355.93,520.88h0M1361.46,527.81h0M1370.31,539.32h0M1378.18,549.84h0M1385.07,559.38h0M1391.95,568.92h0M1410.15,593.83h0M1439.65,634.11h0M1457.65,658.52h0M1464.14,667.08h0M1470.64,675.64h0M1477.13,684.19h0M1483.62,692.75h0M1488.93,699.69h0M1493.06,705h0M1497.19,710.31h0M1501.32,715.62h0M1505.45,720.93h0M1509.98,726.78h0M1514.89,733.18h0M1519.81,739.57h0M1524.34,745.13h0M1528.47,749.85h0M1532.6,754.57h0M1536.73,759.29h0M1540.86,764.01h0M1543.77,767.11h0M1545.45,768.58h0M1547.14,770.06h0M1548.83,771.53h0M1550.51,773.01h0M1552.2,774.48h0M1553.88,775.96h0M1555.65,777.43h0M1557.49,778.91h0M1559.34,780.38h0M1561.18,781.86h0M1562.84,782.08h0M1564.32,781.05h0M1572.43,789.24h0M1576.37,792.68h0M1578.33,795.14h0M1580.3,797.6h0M1582.02,797.72h0M1583.5,795.51h0M1585.41,792.19h0M1589.89,789.97h0M1590.58,787.02h0M1591.27,784.07h0M1591.86,781.37h0M1592.35,778.91h0M1592.84,776.45h0M1593.33,774.24h0M1593.82,772.27h0M1594.31,770.3h0" fill="none" stroke="#5DB145" stroke-width="1.75" stroke-linecap="round"/>
<rect x="1269.7" y="477.2" width="340.5" height="337.9" fill="none" stroke="#6a6a6a" stroke-width="1.3"/>
<line x1="1265.8" y1="498.8" x2="1268.8" y2="498.8" stroke="#333" stroke-width="1"/>
<text x="1264.2" y="505.49" font-size="19.4" text-anchor="end" fill="#4d4d4d" class="g">0.6</text>
<line x1="1265.8" y1="582.6" x2="1268.8" y2="582.6" stroke="#333" stroke-width="1"/>
<text x="1264.2" y="589.29" font-size="19.4" text-anchor="end" fill="#4d4d4d" class="g">0.4</text>
<line x1="1265.8" y1="666.1" x2="1268.8" y2="666.1" stroke="#333" stroke-width="1"/>
<text x="1264.2" y="672.79" font-size="19.4" text-anchor="end" fill="#4d4d4d" class="g">0.2</text>
<line x1="1265.8" y1="750.2" x2="1268.8" y2="750.2" stroke="#333" stroke-width="1"/>
<text x="1264.2" y="756.89" font-size="19.4" text-anchor="end" fill="#4d4d4d" class="g">0.0</text>
<line x1="1285" y1="815.1" x2="1285" y2="818.3" stroke="#333" stroke-width="0.9"/>
<line x1="1382.5" y1="815.1" x2="1382.5" y2="818.3" stroke="#333" stroke-width="0.9"/>
<line x1="1480" y1="815.1" x2="1480" y2="818.3" stroke="#333" stroke-width="0.9"/>
<line x1="1577.5" y1="815.1" x2="1577.5" y2="818.3" stroke="#333" stroke-width="0.9"/>
<g transform="translate(1223,794.1) rotate(-90)" font-size="19.3">
<text x="0" y="0">Enrichment Score (</text>
<text transform="translate(166.5,0) scale(0.817,1)" font-style="italic">RISP</text>
<text x="204.3" y="-7.4" font-size="11.5" font-style="italic" letter-spacing="0.4">fl/fl</text>
<text x="225" y="0">/</text>
<text transform="translate(237.5,0) scale(0.822,1)" font-style="italic">RISP</text>
<text x="274.2" y="-7.4" font-size="11.5" font-style="italic" letter-spacing="0.15">fl/wt</text>
<text x="294" y="0">)</text>
</g>
<text x="1195.7" y="466.9" font-size="28.2">E</text>
<text x="1500.7" y="571.6" font-size="18.7" text-anchor="middle" xml:space="preserve">DAM Response</text>
<text x="1499.6" y="591.7" font-size="19.3" text-anchor="middle" xml:space="preserve">q = 5.56e-09</text>
</g>
<g class="th">
<line x1="1270.1" y1="873.75" x2="1608" y2="873.75" stroke="#F6F6F6" stroke-width="0.7"/>
<line x1="1270.1" y1="962.05" x2="1608" y2="962.05" stroke="#F6F6F6" stroke-width="0.7"/>
<line x1="1270.1" y1="1050.35" x2="1608" y2="1050.35" stroke="#F6F6F6" stroke-width="0.7"/>
<line x1="1270.1" y1="1138.65" x2="1608" y2="1138.65" stroke="#F6F6F6" stroke-width="0.7"/>
<line x1="1270.1" y1="917.9" x2="1608" y2="917.9" stroke="#EFEFEF" stroke-width="1.1"/>
<line x1="1270.1" y1="1006.2" x2="1608" y2="1006.2" stroke="#EFEFEF" stroke-width="1.1"/>
<line x1="1270.1" y1="1094.5" x2="1608" y2="1094.5" stroke="#EFEFEF" stroke-width="1.1"/>
<line x1="1270.1" y1="1182.8" x2="1608" y2="1182.8" stroke="#EFEFEF" stroke-width="1.1"/>
<line x1="1331.83" y1="861.4" x2="1331.83" y2="1214.6" stroke="#F6F6F6" stroke-width="0.7"/>
<line x1="1430.1" y1="861.4" x2="1430.1" y2="1214.6" stroke="#F6F6F6" stroke-width="0.7"/>
<line x1="1528.37" y1="861.4" x2="1528.37" y2="1214.6" stroke="#F6F6F6" stroke-width="0.7"/>
<line x1="1282.7" y1="861.4" x2="1282.7" y2="1214.6" stroke="#EFEFEF" stroke-width="1.1"/>
<line x1="1380.97" y1="861.4" x2="1380.97" y2="1214.6" stroke="#EFEFEF" stroke-width="1.1"/>
<line x1="1479.23" y1="861.4" x2="1479.23" y2="1214.6" stroke="#EFEFEF" stroke-width="1.1"/>
<line x1="1577.5" y1="861.4" x2="1577.5" y2="1214.6" stroke="#EFEFEF" stroke-width="1.1"/>
<line x1="1267.3" y1="874.5" x2="1610.8" y2="874.5" stroke="#D9665A" stroke-width="1.15" stroke-dasharray="3.2 2.65"/>
<line x1="1267.3" y1="1182.5" x2="1610.8" y2="1182.5" stroke="#D9665A" stroke-width="1.15" stroke-dasharray="3.2 2.65"/>
<line x1="1267.3" y1="1182.6" x2="1610.8" y2="1182.6" stroke="#000" stroke-width="1.25"/>
<path d="M1282.94,1163.4V1201.8M1283.97,1163.4V1201.8M1284.97,1163.4V1201.8M1285.98,1163.4V1201.8M1287.18,1163.4V1201.8M1288,1163.4V1201.8M1289.16,1163.4V1201.8M1290.18,1163.4V1201.8M1292.87,1163.4V1201.8M1295.19,1163.4V1201.8M1297.25,1163.4V1201.8M1299.48,1163.4V1201.8M1305,1163.4V1201.8M1307.98,1163.4V1201.8M1326.06,1163.4V1201.8M1343.76,1163.4V1201.8M1362.94,1163.4V1201.8M1435.23,1163.4V1201.8M1488.93,1163.4V1201.8M1584.23,1163.4V1201.8" stroke="#000" stroke-opacity="0.72" stroke-width="0.75" fill="none"/>
<path d="M1283.2,1163.4V1201.8M1284.2,1163.4V1201.8M1285.23,1163.4V1201.8M1286.24,1163.4V1201.8M1287.34,1163.4V1201.8M1288.27,1163.4V1201.8M1289.56,1163.4V1201.8M1290.39,1163.4V1201.8M1293.66,1163.4V1201.8M1295.67,1163.4V1201.8M1297.79,1163.4V1201.8M1302.57,1163.4V1201.8M1305.79,1163.4V1201.8M1311.3,1163.4V1201.8M1330.48,1163.4V1201.8M1346.71,1163.4V1201.8M1375.33,1163.4V1201.8M1465.62,1163.4V1201.8M1510.47,1163.4V1201.8" stroke="#000" stroke-opacity="0.72" stroke-width="0.75" fill="none"/>
<path d="M1283.23,1163.4V1201.8M1284.45,1163.4V1201.8M1285.49,1163.4V1201.8M1286.59,1163.4V1201.8M1287.58,1163.4V1201.8M1288.65,1163.4V1201.8M1289.73,1163.4V1201.8M1291.71,1163.4V1201.8M1294.02,1163.4V1201.8M1296.17,1163.4V1201.8M1298.09,1163.4V1201.8M1303.74,1163.4V1201.8M1306.5,1163.4V1201.8M1318.09,1163.4V1201.8M1338.45,1163.4V1201.8M1352.61,1163.4V1201.8M1383.59,1163.4V1201.8M1467.68,1163.4V1201.8M1532.6,1163.4V1201.8" stroke="#000" stroke-opacity="0.72" stroke-width="0.75" fill="none"/>
<path d="M1283.5,1163.4V1201.8M1284.62,1163.4V1201.8M1285.64,1163.4V1201.8M1286.93,1163.4V1201.8M1287.8,1163.4V1201.8M1288.87,1163.4V1201.8M1290,1163.4V1201.8M1292.14,1163.4V1201.8M1294.29,1163.4V1201.8M1296.79,1163.4V1201.8M1298.96,1163.4V1201.8M1304.45,1163.4V1201.8M1307.56,1163.4V1201.8M1321.63,1163.4V1201.8M1341.69,1163.4V1201.8M1354.09,1163.4V1201.8M1409.56,1163.4V1201.8M1472.7,1163.4V1201.8M1540.56,1163.4V1201.8" stroke="#000" stroke-opacity="0.72" stroke-width="0.75" fill="none"/>
<path d="M1282.68,1163.42 L1282.98,1125.06 L1283.27,1095.55 L1283.57,1066.05 L1283.86,1036.54 L1284.45,1007.04 L1285.34,977.53 L1286.81,948.02 L1288.58,927.37 L1290.65,909.67 L1293.6,896.39 L1295.96,887.54 L1298.02,881.64 L1299.5,875.73 L1302.45,879.57 L1305.4,880.16 L1308.35,875.14 L1311.3,874.85 L1315.73,880.16 L1321.63,884.59 L1330.48,891.96 L1339.33,900.81 L1354.09,914.68 L1383.59,948.02 L1410.15,976.65 L1435.23,1006.15 L1466.21,1040.97 L1489.81,1066.93 L1510.47,1090.54 L1532.6,1115.32 L1540.56,1123.59 L1584.23,1171.39 L1594.56,1182.6" fill="none" stroke="#5DB145" stroke-width="1.15" stroke-linejoin="round"/>
<path d="M1282.73,1157.03h0M1282.83,1144.24h0M1282.93,1131.45h0M1283.03,1120.14h0M1283.12,1110.31h0M1283.22,1100.47h0M1283.31,1091.87h0M1283.38,1084.49h0M1283.46,1077.11h0M1283.53,1069.74h0M1283.6,1062.36h0M1283.68,1054.98h0M1283.75,1047.61h0M1283.82,1040.23h0M1283.91,1034.08h0M1284.01,1029.17h0M1284.11,1024.25h0M1284.21,1019.33h0M1284.3,1014.41h0M1284.4,1009.5h0M1284.51,1005.19h0M1284.62,1001.5h0M1284.73,997.82h0M1284.84,994.13h0M1284.95,990.44h0M1285.06,986.75h0M1285.17,983.06h0M1285.28,979.37h0M1285.41,976.06h0M1285.56,973.1h0M1285.71,970.15h0M1285.85,967.2h0M1286,964.25h0M1286.15,961.3h0M1286.3,958.35h0M1286.44,955.4h0M1286.59,952.45h0M1286.74,949.5h0M1286.9,946.99h0M1287.08,944.93h0M1287.25,942.86h0M1287.43,940.8h0M1287.61,938.73h0M1287.79,936.66h0M1287.96,934.6h0M1288.14,932.53h0M1288.32,930.47h0M1288.49,928.4h0M1288.69,926.48h0M1288.89,924.71h0M1289.1,922.94h0M1289.31,921.17h0M1289.51,919.4h0M1289.72,917.63h0M1289.92,915.86h0M1290.13,914.09h0M1290.34,912.32h0M1290.54,910.55h0M1290.86,908.72h0M1291.28,906.82h0M1291.7,904.92h0M1292.12,903.03h0M1292.54,901.13h0M1292.97,899.23h0M1293.39,897.34h0M1293.83,895.5h0M1294.31,893.73h0M1294.78,891.96h0M1295.25,890.19h0M1295.72,888.42h0M1296.3,886.55h0M1296.99,884.59h0M1297.68,882.62h0M1298.27,880.65h0M1298.76,878.69h0M1299.25,876.72h0M1299.99,876.37h0M1300.97,877.65h0M1301.96,878.93h0M1303.93,879.87h0M1305.89,879.32h0M1306.88,877.65h0M1307.86,875.98h0M1309.83,875h0M1313.52,877.5h0M1317.2,881.27h0M1320.15,883.48h0M1323.1,885.82h0M1326.06,888.27h0M1329.01,890.73h0M1332.69,894.18h0M1337.12,898.6h0M1340.81,902.2h0M1343.76,904.97h0M1346.71,907.75h0M1349.66,910.52h0M1352.61,913.3h0M1357.77,918.85h0M1365.15,927.19h0M1372.53,935.52h0M1379.9,943.86h0M1390.23,955.18h0M1403.51,969.49h0M1416.42,984.02h0M1428.96,998.77h0M1442.97,1014.86h0M1458.46,1032.26h0M1470.14,1045.3h0M1478.01,1053.95h0M1485.88,1062.61h0M1500.14,1078.74h0M1516,1096.74h0M1527.07,1109.13h0M1534.59,1117.39h0M1538.57,1121.52h0M1551.48,1135.54h0M1573.32,1159.44h0M1589.4,1176.99h0" fill="none" stroke="#5DB145" stroke-width="1.75" stroke-linecap="round"/>
<rect x="1267.3" y="858.6" width="343.5" height="358.8" fill="none" stroke="#6a6a6a" stroke-width="1.3"/>
<line x1="1262.9" y1="917.9" x2="1265.9" y2="917.9" stroke="#333" stroke-width="1"/>
<text x="1261.3" y="924.59" font-size="19.4" text-anchor="end">0.75</text>
<line x1="1262.9" y1="1006.2" x2="1265.9" y2="1006.2" stroke="#333" stroke-width="1"/>
<text x="1261.3" y="1012.89" font-size="19.4" text-anchor="end">0.50</text>
<line x1="1262.9" y1="1094.1" x2="1265.9" y2="1094.1" stroke="#333" stroke-width="1"/>
<text x="1261.3" y="1100.79" font-size="19.4" text-anchor="end">0.25</text>
<line x1="1262.9" y1="1182.6" x2="1265.9" y2="1182.6" stroke="#333" stroke-width="1"/>
<text x="1261.3" y="1189.29" font-size="19.4" text-anchor="end">0.00</text>
<line x1="1282.7" y1="1217.4" x2="1282.7" y2="1220.6" stroke="#333" stroke-width="0.9"/>
<text x="1282.7" y="1238.7" font-size="19.3" text-anchor="middle">0</text>
<line x1="1380.97" y1="1217.4" x2="1380.97" y2="1220.6" stroke="#333" stroke-width="0.9"/>
<text x="1380.97" y="1238.7" font-size="19.3" text-anchor="middle">10000</text>
<line x1="1479.23" y1="1217.4" x2="1479.23" y2="1220.6" stroke="#333" stroke-width="0.9"/>
<text x="1479.23" y="1238.7" font-size="19.3" text-anchor="middle">20000</text>
<line x1="1577.5" y1="1217.4" x2="1577.5" y2="1220.6" stroke="#333" stroke-width="0.9"/>
<text x="1577.5" y="1238.7" font-size="19.3" text-anchor="middle">30000</text>
<text transform="translate(1213.5,1027.7) rotate(-90)" font-size="19.3" text-anchor="middle">Enrichment Score (2yr / 1yr)</text>
<text x="1197.3" y="865" font-size="28.2">F</text>
<text x="1516.4" y="925.9" font-size="18.7" text-anchor="middle" xml:space="preserve">DAM Response</text>
<text x="1516.4" y="947.1" font-size="19.3" text-anchor="middle" xml:space="preserve">q = 2.71e-37</text>
</g>
<g class="th">
<line x1="1269.6" y1="1309.25" x2="1610.4" y2="1309.25" stroke="#F6F6F6" stroke-width="0.7"/>
<line x1="1269.6" y1="1392.55" x2="1610.4" y2="1392.55" stroke="#F6F6F6" stroke-width="0.7"/>
<line x1="1269.6" y1="1475.85" x2="1610.4" y2="1475.85" stroke="#F6F6F6" stroke-width="0.7"/>
<line x1="1269.6" y1="1559.15" x2="1610.4" y2="1559.15" stroke="#F6F6F6" stroke-width="0.7"/>
<line x1="1269.6" y1="1642.45" x2="1610.4" y2="1642.45" stroke="#F6F6F6" stroke-width="0.7"/>
<line x1="1269.6" y1="1350.9" x2="1610.4" y2="1350.9" stroke="#EFEFEF" stroke-width="1.1"/>
<line x1="1269.6" y1="1434.2" x2="1610.4" y2="1434.2" stroke="#EFEFEF" stroke-width="1.1"/>
<line x1="1269.6" y1="1517.5" x2="1610.4" y2="1517.5" stroke="#EFEFEF" stroke-width="1.1"/>
<line x1="1269.6" y1="1600.8" x2="1610.4" y2="1600.8" stroke="#EFEFEF" stroke-width="1.1"/>
<line x1="1331.92" y1="1295.3" x2="1331.92" y2="1648.8" stroke="#F6F6F6" stroke-width="0.7"/>
<line x1="1430.95" y1="1295.3" x2="1430.95" y2="1648.8" stroke="#F6F6F6" stroke-width="0.7"/>
<line x1="1529.98" y1="1295.3" x2="1529.98" y2="1648.8" stroke="#F6F6F6" stroke-width="0.7"/>
<line x1="1282.4" y1="1295.3" x2="1282.4" y2="1648.8" stroke="#EFEFEF" stroke-width="1.1"/>
<line x1="1381.43" y1="1295.3" x2="1381.43" y2="1648.8" stroke="#EFEFEF" stroke-width="1.1"/>
<line x1="1480.47" y1="1295.3" x2="1480.47" y2="1648.8" stroke="#EFEFEF" stroke-width="1.1"/>
<line x1="1579.5" y1="1295.3" x2="1579.5" y2="1648.8" stroke="#EFEFEF" stroke-width="1.1"/>
<line x1="1266.8" y1="1308.5" x2="1613.2" y2="1308.5" stroke="#D9665A" stroke-width="1.15" stroke-dasharray="3.2 2.65"/>
<line x1="1266.8" y1="1636.5" x2="1613.2" y2="1636.5" stroke="#D9665A" stroke-width="1.15" stroke-dasharray="3.2 2.65"/>
<line x1="1266.8" y1="1600.3" x2="1613.2" y2="1600.3" stroke="#000" stroke-width="1.25"/>
<path d="M1282.45,1579.3V1620.6M1283.68,1579.3V1620.6M1284.7,1579.3V1620.6M1285.98,1579.3V1620.6M1287.05,1579.3V1620.6M1288.18,1579.3V1620.6M1289.2,1579.3V1620.6M1290.44,1579.3V1620.6M1291.47,1579.3V1620.6M1292.72,1579.3V1620.6M1294.31,1579.3V1620.6M1296.92,1579.3V1620.6M1299.93,1579.3V1620.6M1303.08,1579.3V1620.6M1306.04,1579.3V1620.6M1308.88,1579.3V1620.6M1323.99,1579.3V1620.6M1333.43,1579.3V1620.6M1345.82,1579.3V1620.6M1364.41,1579.3V1620.6M1420.47,1579.3V1620.6M1477.42,1579.3V1620.6M1506.04,1579.3V1620.6M1528.76,1579.3V1620.6M1553.25,1579.3V1620.6M1559.6,1579.3V1620.6M1562.57,1579.3V1620.6M1580.69,1579.3V1620.6M1592.91,1579.3V1620.6M1594.3,1579.3V1620.6M1595.84,1579.3V1620.6M1597.51,1579.3V1620.6" stroke="#000" stroke-opacity="0.72" stroke-width="0.75" fill="none"/>
<path d="M1282.82,1579.3V1620.6M1283.81,1579.3V1620.6M1284.97,1579.3V1620.6M1286.16,1579.3V1620.6M1287.39,1579.3V1620.6M1288.29,1579.3V1620.6M1289.4,1579.3V1620.6M1290.76,1579.3V1620.6M1291.86,1579.3V1620.6M1292.78,1579.3V1620.6M1294.66,1579.3V1620.6M1297.57,1579.3V1620.6M1300.9,1579.3V1620.6M1303.92,1579.3V1620.6M1306.85,1579.3V1620.6M1309.24,1579.3V1620.6M1326.06,1579.3V1620.6M1336.97,1579.3V1620.6M1356.45,1579.3V1620.6M1377.69,1579.3V1620.6M1422.54,1579.3V1620.6M1488.93,1579.3V1620.6M1512.83,1579.3V1620.6M1534.66,1579.3V1620.6M1558.2,1579.3V1620.6M1560.72,1579.3V1620.6M1568.6,1579.3V1620.6M1585.71,1579.3V1620.6M1593.32,1579.3V1620.6M1594.87,1579.3V1620.6M1596.39,1579.3V1620.6" stroke="#000" stroke-opacity="0.72" stroke-width="0.75" fill="none"/>
<path d="M1283.05,1579.3V1620.6M1284.07,1579.3V1620.6M1285.47,1579.3V1620.6M1286.49,1579.3V1620.6M1287.58,1579.3V1620.6M1288.77,1579.3V1620.6M1289.92,1579.3V1620.6M1291,1579.3V1620.6M1292.04,1579.3V1620.6M1293.08,1579.3V1620.6M1295.54,1579.3V1620.6M1298.28,1579.3V1620.6M1301.48,1579.3V1620.6M1304.42,1579.3V1620.6M1307.54,1579.3V1620.6M1316.32,1579.3V1620.6M1329.01,1579.3V1620.6M1339.33,1579.3V1620.6M1358.51,1579.3V1620.6M1399.23,1579.3V1620.6M1427.26,1579.3V1620.6M1492.76,1579.3V1620.6M1522.27,1579.3V1620.6M1547.35,1579.3V1620.6M1558.66,1579.3V1620.6M1561.43,1579.3V1620.6M1572.43,1579.3V1620.6M1590.13,1579.3V1620.6M1593.85,1579.3V1620.6M1595.02,1579.3V1620.6M1596.79,1579.3V1620.6" stroke="#000" stroke-opacity="0.72" stroke-width="0.75" fill="none"/>
<path d="M1283.4,1579.3V1620.6M1284.58,1579.3V1620.6M1285.6,1579.3V1620.6M1286.63,1579.3V1620.6M1287.92,1579.3V1620.6M1289,1579.3V1620.6M1290.09,1579.3V1620.6M1291.33,1579.3V1620.6M1292.46,1579.3V1620.6M1293.38,1579.3V1620.6M1296.03,1579.3V1620.6M1299.19,1579.3V1620.6M1302.4,1579.3V1620.6M1304.78,1579.3V1620.6M1308.03,1579.3V1620.6M1320.15,1579.3V1620.6M1331.96,1579.3V1620.6M1341.69,1579.3V1620.6M1360.58,1579.3V1620.6M1415.16,1579.3V1620.6M1452.05,1579.3V1620.6M1494.24,1579.3V1620.6M1526.7,1579.3V1620.6M1549.42,1579.3V1620.6M1559.11,1579.3V1620.6M1561.5,1579.3V1620.6M1576.86,1579.3V1620.6M1592.64,1579.3V1620.6M1594.24,1579.3V1620.6M1595.62,1579.3V1620.6M1596.98,1579.3V1620.6" stroke="#000" stroke-opacity="0.72" stroke-width="0.75" fill="none"/>
<path d="M1282.39,1579.32 L1282.39,1535.06 L1282.39,1505.55 L1282.68,1476.05 L1282.98,1446.54 L1283.27,1417.04 L1284.16,1387.53 L1285.63,1363.93 L1287.7,1349.17 L1289.76,1337.37 L1291.53,1325.57 L1293.6,1324.09 L1296.55,1318.19 L1298.02,1316.13 L1300.38,1317.31 L1303.34,1312.29 L1305.4,1313.77 L1307.47,1309.93 L1309.83,1308.75 L1312.78,1312.29 L1318.68,1319.08 L1324.58,1325.57 L1333.43,1332.06 L1345.23,1343.27 L1357.04,1358.02 L1364.41,1365.4 L1377.69,1383.69 L1404.25,1417.04 L1433.75,1458.35 L1478.01,1515.88 L1492.76,1535.06 L1513.42,1560.14 L1534.07,1583.75 L1548.83,1602.92 L1560.63,1612.37 L1569.48,1619.15 L1578.33,1623.58 L1587.18,1630.96 L1591.61,1635.38 L1593.68,1633.91 L1595.45,1620.63 L1596.63,1605.88" fill="none" stroke="#5DB145" stroke-width="1.15" stroke-linejoin="round"/>
<path d="M1282.39,1568.26h0M1282.39,1546.13h0M1282.39,1527.68h0M1282.39,1512.93h0M1282.44,1500.64h0M1282.53,1490.8h0M1282.63,1480.97h0M1282.72,1472.36h0M1282.79,1464.98h0M1282.87,1457.61h0M1282.94,1450.23h0M1283,1444.08h0M1283.05,1439.17h0M1283.1,1434.25h0M1283.15,1429.33h0M1283.2,1424.41h0M1283.25,1419.5h0M1283.33,1415.19h0M1283.44,1411.5h0M1283.55,1407.82h0M1283.66,1404.13h0M1283.77,1400.44h0M1283.88,1396.75h0M1283.99,1393.06h0M1284.1,1389.37h0M1284.23,1386.35h0M1284.38,1383.99h0M1284.53,1381.63h0M1284.67,1379.27h0M1284.82,1376.91h0M1284.97,1374.55h0M1285.12,1372.19h0M1285.26,1369.83h0M1285.41,1367.47h0M1285.56,1365.11h0M1285.75,1363.11h0M1285.98,1361.47h0M1286.21,1359.83h0M1286.44,1358.19h0M1286.66,1356.55h0M1286.89,1354.91h0M1287.12,1353.27h0M1287.35,1351.63h0M1287.58,1349.99h0M1287.84,1348.33h0M1288.14,1346.64h0M1288.43,1344.96h0M1288.73,1343.27h0M1289.03,1341.59h0M1289.32,1339.9h0M1289.62,1338.21h0M1289.89,1336.53h0M1290.14,1334.84h0M1290.39,1333.15h0M1290.65,1331.47h0M1290.9,1329.78h0M1291.15,1328.1h0M1291.41,1326.41h0M1292.57,1324.83h0M1293.97,1323.35h0M1294.7,1321.88h0M1295.44,1320.4h0M1296.18,1318.93h0M1297.29,1317.16h0M1299.2,1316.72h0M1300.88,1316.47h0M1301.86,1314.8h0M1302.84,1313.13h0M1304.37,1313.03h0M1305.92,1312.81h0M1306.95,1310.89h0M1308.65,1309.34h0M1315.73,1315.68h0M1320.15,1320.7h0M1323.1,1323.94h0M1325.47,1326.22h0M1327.24,1327.52h0M1329.01,1328.81h0M1330.78,1330.11h0M1332.55,1331.41h0M1334.61,1333.18h0M1336.97,1335.42h0M1339.33,1337.67h0M1341.69,1339.91h0M1344.05,1342.15h0M1348.18,1346.96h0M1354.09,1354.34h0M1358.27,1359.25h0M1360.72,1361.71h0M1363.18,1364.17h0M1367.73,1369.97h0M1374.37,1379.12h0M1384.33,1392.03h0M1397.61,1408.7h0M1407.93,1422.2h0M1415.31,1432.53h0M1422.69,1442.85h0M1430.06,1453.18h0M1444.82,1472.73h0M1466.95,1501.5h0M1481.7,1520.68h0M1489.08,1530.27h0M1495.35,1538.2h0M1500.51,1544.47h0M1505.67,1550.74h0M1510.84,1557.01h0M1516.86,1564.08h0M1523.75,1571.94h0M1530.63,1579.81h0M1536.53,1586.94h0M1541.45,1593.34h0M1546.37,1599.73h0M1549.67,1603.6h0M1551.36,1604.95h0M1553.04,1606.3h0M1554.73,1607.65h0M1556.41,1608.99h0M1558.1,1610.34h0M1559.79,1611.69h0M1561.51,1613.05h0M1563.28,1614.4h0M1565.05,1615.76h0M1566.82,1617.12h0M1568.6,1618.47h0M1571.69,1620.26h0M1576.12,1622.47h0M1580.55,1625.42h0M1584.97,1629.11h0M1589.4,1633.17h0M1592.64,1634.64h0M1593.79,1633.08h0M1594.01,1631.42h0M1594.23,1629.76h0M1594.45,1628.1h0M1594.67,1626.44h0M1594.89,1624.78h0M1595.11,1623.12h0M1595.34,1621.46h0M1595.53,1619.57h0M1595.7,1617.47h0M1595.87,1615.36h0M1596.04,1613.25h0M1596.2,1611.14h0M1596.37,1609.04h0M1596.54,1606.93h0" fill="none" stroke="#5DB145" stroke-width="1.75" stroke-linecap="round"/>
<rect x="1266.8" y="1292.5" width="346.4" height="359.1" fill="none" stroke="#6a6a6a" stroke-width="1.3"/>
<line x1="1261.2" y1="1350.9" x2="1264.2" y2="1350.9" stroke="#333" stroke-width="1"/>
<text x="1259.6" y="1357.59" font-size="19.4" text-anchor="end">0.6</text>
<line x1="1261.2" y1="1434.2" x2="1264.2" y2="1434.2" stroke="#333" stroke-width="1"/>
<text x="1259.6" y="1440.89" font-size="19.4" text-anchor="end">0.4</text>
<line x1="1261.2" y1="1517.4" x2="1264.2" y2="1517.4" stroke="#333" stroke-width="1"/>
<text x="1259.6" y="1524.09" font-size="19.4" text-anchor="end">0.2</text>
<line x1="1261.2" y1="1600.3" x2="1264.2" y2="1600.3" stroke="#333" stroke-width="1"/>
<text x="1259.6" y="1606.99" font-size="19.4" text-anchor="end">0.0</text>
<line x1="1282.4" y1="1651.6" x2="1282.4" y2="1654.8" stroke="#333" stroke-width="0.9"/>
<line x1="1381.43" y1="1651.6" x2="1381.43" y2="1654.8" stroke="#333" stroke-width="0.9"/>
<line x1="1480.47" y1="1651.6" x2="1480.47" y2="1654.8" stroke="#333" stroke-width="0.9"/>
<line x1="1579.5" y1="1651.6" x2="1579.5" y2="1654.8" stroke="#333" stroke-width="0.9"/>
<g transform="translate(1221.1,1627.7) rotate(-90)" font-size="19.3">
<text x="0" y="0">Enrichment Score (</text>
<text transform="translate(166.5,0) scale(0.817,1)" font-style="italic">RISP</text>
<text x="204.3" y="-7.4" font-size="11.5" font-style="italic" letter-spacing="0.4">fl/fl</text>
<text x="225" y="0">/</text>
<text transform="translate(237.5,0) scale(0.822,1)" font-style="italic">RISP</text>
<text x="274.2" y="-7.4" font-size="11.5" font-style="italic" letter-spacing="0.15">fl/wt</text>
<text x="294" y="0">)</text>
</g>
<text x="1194.5" y="1273.95" font-size="28.2">H</text>
<text x="1466" y="1435.3" font-size="18.85" text-anchor="middle" xml:space="preserve">Integrated Stress Response (ISR)</text>
<text x="1458.8" y="1456.9" font-size="19.3" text-anchor="middle" xml:space="preserve">q = 7.42e-12</text>
</g>
<g class="th">
<line x1="1269.8" y1="1782" x2="1608" y2="1782" stroke="#F6F6F6" stroke-width="0.7"/>
<line x1="1269.8" y1="1869.6" x2="1608" y2="1869.6" stroke="#F6F6F6" stroke-width="0.7"/>
<line x1="1269.8" y1="1957.2" x2="1608" y2="1957.2" stroke="#F6F6F6" stroke-width="0.7"/>
<line x1="1269.8" y1="1738.2" x2="1608" y2="1738.2" stroke="#EFEFEF" stroke-width="1.1"/>
<line x1="1269.8" y1="1825.8" x2="1608" y2="1825.8" stroke="#EFEFEF" stroke-width="1.1"/>
<line x1="1269.8" y1="1913.4" x2="1608" y2="1913.4" stroke="#EFEFEF" stroke-width="1.1"/>
<line x1="1269.8" y1="2001" x2="1608" y2="2001" stroke="#EFEFEF" stroke-width="1.1"/>
<line x1="1331.58" y1="1706.2" x2="1331.58" y2="2040.8" stroke="#F6F6F6" stroke-width="0.7"/>
<line x1="1429.95" y1="1706.2" x2="1429.95" y2="2040.8" stroke="#F6F6F6" stroke-width="0.7"/>
<line x1="1528.32" y1="1706.2" x2="1528.32" y2="2040.8" stroke="#F6F6F6" stroke-width="0.7"/>
<line x1="1282.4" y1="1706.2" x2="1282.4" y2="2040.8" stroke="#EFEFEF" stroke-width="1.1"/>
<line x1="1380.77" y1="1706.2" x2="1380.77" y2="2040.8" stroke="#EFEFEF" stroke-width="1.1"/>
<line x1="1479.13" y1="1706.2" x2="1479.13" y2="2040.8" stroke="#EFEFEF" stroke-width="1.1"/>
<line x1="1577.5" y1="1706.2" x2="1577.5" y2="2040.8" stroke="#EFEFEF" stroke-width="1.1"/>
<line x1="1267" y1="1718.5" x2="1610.8" y2="1718.5" stroke="#D9665A" stroke-width="1.15" stroke-dasharray="3.2 2.65"/>
<line x1="1267" y1="2028.5" x2="1610.8" y2="2028.5" stroke="#D9665A" stroke-width="1.15" stroke-dasharray="3.2 2.65"/>
<line x1="1267" y1="2000.8" x2="1610.8" y2="2000.8" stroke="#000" stroke-width="1.25"/>
<path d="M1282.45,1981.6V2020.6M1283.54,1981.6V2020.6M1284.86,1981.6V2020.6M1285.83,1981.6V2020.6M1287.14,1981.6V2020.6M1288.13,1981.6V2020.6M1292.54,1981.6V2020.6M1294.24,1981.6V2020.6M1296.32,1981.6V2020.6M1298.18,1981.6V2020.6M1299.87,1981.6V2020.6M1301.59,1981.6V2020.6M1306.56,1981.6V2020.6M1309.05,1981.6V2020.6M1311.27,1981.6V2020.6M1313.5,1981.6V2020.6M1316.06,1981.6V2020.6M1318.24,1981.6V2020.6M1320.17,1981.6V2020.6M1322.83,1981.6V2020.6M1326.06,1981.6V2020.6M1341.69,1981.6V2020.6M1354.09,1981.6V2020.6M1374.15,1981.6V2020.6M1396.87,1981.6V2020.6M1415.16,1981.6V2020.6M1457.36,1981.6V2020.6M1476.54,1981.6V2020.6M1516.96,1981.6V2020.6M1532.6,1981.6V2020.6M1549.42,1981.6V2020.6M1565.64,1981.6V2020.6M1589.34,1981.6V2020.6M1591.82,1981.6V2020.6M1593.54,1981.6V2020.6" stroke="#000" stroke-opacity="0.72" stroke-width="0.75" fill="none"/>
<path d="M1282.7,1981.6V2020.6M1283.91,1981.6V2020.6M1284.99,1981.6V2020.6M1286.09,1981.6V2020.6M1287.42,1981.6V2020.6M1288.5,1981.6V2020.6M1292.63,1981.6V2020.6M1294.55,1981.6V2020.6M1296.75,1981.6V2020.6M1298.49,1981.6V2020.6M1300.3,1981.6V2020.6M1302.12,1981.6V2020.6M1307.45,1981.6V2020.6M1309.54,1981.6V2020.6M1311.72,1981.6V2020.6M1314.28,1981.6V2020.6M1316.18,1981.6V2020.6M1318.72,1981.6V2020.6M1320.89,1981.6V2020.6M1323.43,1981.6V2020.6M1328.12,1981.6V2020.6M1344.64,1981.6V2020.6M1360.58,1981.6V2020.6M1378.28,1981.6V2020.6M1399.82,1981.6V2020.6M1422.84,1981.6V2020.6M1463.85,1981.6V2020.6M1497.78,1981.6V2020.6M1520.8,1981.6V2020.6M1535.55,1981.6V2020.6M1553.25,1981.6V2020.6M1577.45,1981.6V2020.6M1590.23,1981.6V2020.6M1592.18,1981.6V2020.6" stroke="#000" stroke-opacity="0.72" stroke-width="0.75" fill="none"/>
<path d="M1283.06,1981.6V2020.6M1284.34,1981.6V2020.6M1285.37,1981.6V2020.6M1286.41,1981.6V2020.6M1287.7,1981.6V2020.6M1288.81,1981.6V2020.6M1293.35,1981.6V2020.6M1295.16,1981.6V2020.6M1297.07,1981.6V2020.6M1299.11,1981.6V2020.6M1300.85,1981.6V2020.6M1305.86,1981.6V2020.6M1307.82,1981.6V2020.6M1310.48,1981.6V2020.6M1312.53,1981.6V2020.6M1314.61,1981.6V2020.6M1316.72,1981.6V2020.6M1319.07,1981.6V2020.6M1321.22,1981.6V2020.6M1323.87,1981.6V2020.6M1335.5,1981.6V2020.6M1349.66,1981.6V2020.6M1362.94,1981.6V2020.6M1381.23,1981.6V2020.6M1406.61,1981.6V2020.6M1435.23,1981.6V2020.6M1472.7,1981.6V2020.6M1506.63,1981.6V2020.6M1524.63,1981.6V2020.6M1537.61,1981.6V2020.6M1556.79,1981.6V2020.6M1581.87,1981.6V2020.6M1590.66,1981.6V2020.6M1592.81,1981.6V2020.6" stroke="#000" stroke-opacity="0.72" stroke-width="0.75" fill="none"/>
<path d="M1283.28,1981.6V2020.6M1284.59,1981.6V2020.6M1285.57,1981.6V2020.6M1286.89,1981.6V2020.6M1287.81,1981.6V2020.6M1289.13,1981.6V2020.6M1293.85,1981.6V2020.6M1295.45,1981.6V2020.6M1297.43,1981.6V2020.6M1299.56,1981.6V2020.6M1301.24,1981.6V2020.6M1305.99,1981.6V2020.6M1308.52,1981.6V2020.6M1310.59,1981.6V2020.6M1312.89,1981.6V2020.6M1315.31,1981.6V2020.6M1317.38,1981.6V2020.6M1319.69,1981.6V2020.6M1322.15,1981.6V2020.6M1324.56,1981.6V2020.6M1338.74,1981.6V2020.6M1351.14,1981.6V2020.6M1371.2,1981.6V2020.6M1384.18,1981.6V2020.6M1411.62,1981.6V2020.6M1440.54,1981.6V2020.6M1474.47,1981.6V2020.6M1509.88,1981.6V2020.6M1526.7,1981.6V2020.6M1540.56,1981.6V2020.6M1560.63,1981.6V2020.6M1588.67,1981.6V2020.6M1591,1981.6V2020.6M1593.06,1981.6V2020.6" stroke="#000" stroke-opacity="0.72" stroke-width="0.75" fill="none"/>
<path d="M1282.39,1981.62 L1282.68,1960.96 L1283.27,1937.36 L1284.16,1913.75 L1285.63,1896.05 L1287.11,1872.44 L1288.58,1851.79 L1289.76,1829.66 L1292.12,1832.61 L1293.01,1819.33 L1294.19,1798.68 L1295.66,1788.35 L1298.02,1783.93 L1299.5,1773.6 L1301.57,1761.8 L1303.93,1763.27 L1306.88,1752.94 L1309.83,1755.89 L1312.78,1748.52 L1316.32,1745.57 L1318.68,1733.77 L1321.04,1729.34 L1323.1,1727.86 L1324.58,1719.01 L1326.94,1718.42 L1330.48,1722.55 L1336.38,1729.34 L1343.76,1735.24 L1351.14,1744.09 L1354.09,1742.62 L1362.94,1751.47 L1371.79,1763.27 L1383.59,1775.07 L1398.35,1795.73 L1416.05,1819.33 L1445.55,1860.64 L1475.06,1901.95 L1507.52,1946.21 L1522.27,1963.91 L1534.07,1977.19 L1538.5,1978.08 L1541.45,1980.14 L1551.78,1993.42 L1563.58,2000.8 L1575.38,2014.07 L1582.76,2020.56 L1588.66,2027.35 L1590.72,2018.5 L1592.5,2002.27" fill="none" stroke="#5DB145" stroke-width="1.15" stroke-linejoin="round"/>
<path d="M1282.44,1978.17h0M1282.53,1971.29h0M1282.63,1964.4h0M1282.74,1958.6h0M1282.86,1953.88h0M1282.98,1949.16h0M1283.09,1944.44h0M1283.21,1939.72h0M1283.33,1935.67h0M1283.46,1932.3h0M1283.59,1928.93h0M1283.71,1925.55h0M1283.84,1922.18h0M1283.97,1918.81h0M1284.09,1915.44h0M1284.24,1912.77h0M1284.4,1910.8h0M1284.57,1908.83h0M1284.73,1906.87h0M1284.89,1904.9h0M1285.06,1902.93h0M1285.22,1900.97h0M1285.39,1899h0M1285.55,1897.03h0M1285.71,1894.74h0M1285.88,1892.11h0M1286.04,1889.49h0M1286.21,1886.87h0M1286.37,1884.25h0M1286.53,1881.62h0M1286.7,1879h0M1286.86,1876.38h0M1287.03,1873.76h0M1287.19,1871.3h0M1287.35,1869h0M1287.52,1866.71h0M1287.68,1864.41h0M1287.84,1862.12h0M1288.01,1859.82h0M1288.17,1857.53h0M1288.34,1855.23h0M1288.5,1852.94h0M1288.73,1849.02h0M1289.03,1843.49h0M1289.32,1837.96h0M1289.62,1832.43h0M1290.35,1830.4h0M1291.53,1831.87h0M1292.27,1830.4h0M1292.57,1825.97h0M1292.86,1821.55h0M1293.11,1817.61h0M1293.3,1814.17h0M1293.5,1810.73h0M1293.7,1807.28h0M1293.89,1803.84h0M1294.09,1800.4h0M1294.34,1797.65h0M1294.63,1795.58h0M1294.93,1793.52h0M1295.22,1791.45h0M1295.52,1789.38h0M1296.06,1787.61h0M1296.84,1786.14h0M1297.63,1784.66h0M1298.17,1782.89h0M1298.47,1780.83h0M1298.76,1778.76h0M1299.06,1776.7h0M1299.35,1774.63h0M1299.65,1772.76h0M1299.94,1771.07h0M1300.24,1769.38h0M1300.53,1767.7h0M1300.83,1766.01h0M1301.12,1764.33h0M1301.42,1762.64h0M1302.75,1762.53h0M1304.29,1761.98h0M1305.03,1759.4h0M1305.77,1756.82h0M1306.51,1754.24h0M1307.61,1753.68h0M1309.09,1755.16h0M1310.2,1754.97h0M1310.93,1753.13h0M1311.67,1751.28h0M1312.41,1749.44h0M1313.66,1747.78h0M1315.43,1746.31h0M1316.49,1744.72h0M1316.82,1743.04h0M1317.16,1741.35h0M1317.5,1739.67h0M1317.84,1737.98h0M1318.17,1736.29h0M1318.51,1734.61h0M1319.07,1733.03h0M1319.86,1731.55h0M1320.65,1730.08h0M1322.07,1728.6h0M1323.29,1726.76h0M1323.66,1724.54h0M1324.03,1722.33h0M1324.4,1720.12h0M1325.76,1718.72h0M1328.71,1720.49h0M1333.43,1725.95h0M1338.23,1730.81h0M1341.91,1733.77h0M1344.99,1736.72h0M1347.45,1739.67h0M1349.91,1742.62h0M1351.87,1743.72h0M1353.35,1742.99h0M1355.56,1744.09h0M1358.51,1747.04h0M1361.46,1749.99h0M1365.15,1754.42h0M1369.58,1760.32h0M1373.26,1764.75h0M1376.22,1767.7h0M1379.17,1770.65h0M1382.12,1773.6h0M1387.28,1780.24h0M1394.66,1790.56h0M1400.56,1798.68h0M1404.98,1804.58h0M1409.41,1810.48h0M1413.84,1816.38h0M1420.97,1826.22h0M1430.8,1839.99h0M1440.64,1853.76h0M1449.24,1865.81h0M1456.62,1876.13h0M1464,1886.46h0M1471.37,1896.79h0M1479.12,1907.48h0M1487.23,1918.55h0M1495.35,1929.61h0M1503.46,1940.68h0M1509.98,1949.16h0M1514.89,1955.06h0M1519.81,1960.96h0M1524.24,1966.13h0M1528.17,1970.55h0M1532.11,1974.98h0M1535.18,1977.41h0M1537.39,1977.85h0M1539.97,1979.11h0M1546.61,1986.78h0M1553.74,1994.65h0M1557.68,1997.11h0M1561.61,1999.57h0M1569.48,2007.43h0M1577.23,2015.7h0M1580.91,2018.94h0M1585.71,2023.96h0M1588.87,2026.47h0M1589.28,2024.7h0M1589.69,2022.92h0M1590.11,2021.15h0M1590.52,2019.38h0M1590.87,2017.15h0M1591.17,2014.44h0M1591.46,2011.74h0M1591.76,2009.03h0M1592.05,2006.33h0M1592.35,2003.62h0" fill="none" stroke="#5DB145" stroke-width="1.75" stroke-linecap="round"/>
<rect x="1267" y="1703.4" width="343.8" height="340.2" fill="none" stroke="#6a6a6a" stroke-width="1.3"/>
<line x1="1260.4" y1="1738.2" x2="1263.4" y2="1738.2" stroke="#333" stroke-width="1"/>
<text x="1258.8" y="1744.89" font-size="19.4" text-anchor="end">0.6</text>
<line x1="1260.4" y1="1825.8" x2="1263.4" y2="1825.8" stroke="#333" stroke-width="1"/>
<text x="1258.8" y="1832.49" font-size="19.4" text-anchor="end">0.4</text>
<line x1="1260.4" y1="1913.2" x2="1263.4" y2="1913.2" stroke="#333" stroke-width="1"/>
<text x="1258.8" y="1919.89" font-size="19.4" text-anchor="end">0.2</text>
<line x1="1260.4" y1="2000.8" x2="1263.4" y2="2000.8" stroke="#333" stroke-width="1"/>
<text x="1258.8" y="2007.49" font-size="19.4" text-anchor="end">0.0</text>
<line x1="1282.4" y1="2043.6" x2="1282.4" y2="2046.8" stroke="#333" stroke-width="0.9"/>
<text x="1282.4" y="2063.7" font-size="19.3" text-anchor="middle">0</text>
<line x1="1380.77" y1="2043.6" x2="1380.77" y2="2046.8" stroke="#333" stroke-width="0.9"/>
<text x="1380.77" y="2063.7" font-size="19.3" text-anchor="middle">10000</text>
<line x1="1479.13" y1="2043.6" x2="1479.13" y2="2046.8" stroke="#333" stroke-width="0.9"/>
<text x="1479.13" y="2063.7" font-size="19.3" text-anchor="middle">20000</text>
<line x1="1577.5" y1="2043.6" x2="1577.5" y2="2046.8" stroke="#333" stroke-width="0.9"/>
<text x="1577.5" y="2063.7" font-size="19.3" text-anchor="middle">30000</text>
<text x="1449.1" y="2089.3" font-size="19.3" text-anchor="middle">Gene Rank</text>
<text transform="translate(1219,1882) rotate(-90)" font-size="19.3" text-anchor="middle">Enrichment Score (2yr / 1yr)</text>
<text x="1206.6" y="1695.7" font-size="28.2">I</text>
<text x="1453.2" y="1857.7" font-size="19.4" text-anchor="middle" xml:space="preserve">Integrated Stress Response (ISR)</text>
<text x="1444.1" y="1878.4" font-size="19.3" text-anchor="middle" xml:space="preserve">q = 1.61e-08</text>
</g>
<g class="th">
<line x1="71.3" y1="1980.55" x2="353.8" y2="1980.55" stroke="#F6F6F6" stroke-width="0.7"/>
<line x1="71.3" y1="2079.45" x2="353.8" y2="2079.45" stroke="#F6F6F6" stroke-width="0.7"/>
<line x1="71.3" y1="2178.35" x2="353.8" y2="2178.35" stroke="#F6F6F6" stroke-width="0.7"/>
<line x1="71.3" y1="2277.25" x2="353.8" y2="2277.25" stroke="#F6F6F6" stroke-width="0.7"/>
<line x1="71.3" y1="2030" x2="353.8" y2="2030" stroke="#EFEFEF" stroke-width="1.1"/>
<line x1="71.3" y1="2128.9" x2="353.8" y2="2128.9" stroke="#EFEFEF" stroke-width="1.1"/>
<line x1="71.3" y1="2227.8" x2="353.8" y2="2227.8" stroke="#EFEFEF" stroke-width="1.1"/>
<line x1="122.38" y1="1981.1" x2="122.38" y2="2317.5" stroke="#F6F6F6" stroke-width="0.7"/>
<line x1="204.75" y1="1981.1" x2="204.75" y2="2317.5" stroke="#F6F6F6" stroke-width="0.7"/>
<line x1="287.12" y1="1981.1" x2="287.12" y2="2317.5" stroke="#F6F6F6" stroke-width="0.7"/>
<line x1="81.2" y1="1981.1" x2="81.2" y2="2317.5" stroke="#EFEFEF" stroke-width="1.1"/>
<line x1="163.57" y1="1981.1" x2="163.57" y2="2317.5" stroke="#EFEFEF" stroke-width="1.1"/>
<line x1="245.93" y1="1981.1" x2="245.93" y2="2317.5" stroke="#EFEFEF" stroke-width="1.1"/>
<line x1="328.3" y1="1981.1" x2="328.3" y2="2317.5" stroke="#EFEFEF" stroke-width="1.1"/>
<line x1="68.5" y1="1994.4" x2="356.6" y2="1994.4" stroke="#E0604F" stroke-width="1.5" stroke-dasharray="3.2 2.65"/>
<line x1="68.5" y1="2304.9" x2="356.6" y2="2304.9" stroke="#E0604F" stroke-width="1.5" stroke-dasharray="3.2 2.65"/>
<line x1="68.5" y1="2030" x2="356.6" y2="2030" stroke="#000" stroke-width="1.25"/>
<path d="M86.53,2010.5V2049.5M94.82,2010.5V2049.5M97.16,2010.5V2049.5M99.25,2010.5V2049.5M117.49,2010.5V2049.5M132.84,2010.5V2049.5M148.69,2010.5V2049.5M172.57,2010.5V2049.5M191.52,2010.5V2049.5M194.21,2010.5V2049.5M230.34,2010.5V2049.5M248.62,2010.5V2049.5M276.65,2010.5V2049.5M288.11,2010.5V2049.5M296.91,2010.5V2049.5M299,2010.5V2049.5M302.08,2010.5V2049.5M310.78,2010.5V2049.5M318.13,2010.5V2049.5M320.27,2010.5V2049.5M328.76,2010.5V2049.5M330.27,2010.5V2049.5M332.35,2010.5V2049.5M334.1,2010.5V2049.5M340.08,2010.5V2049.5M341.37,2010.5V2049.5" stroke="#000" stroke-opacity="0.62" stroke-width="1.05" fill="none"/>
<path d="M89.7,2010.5V2049.5M95.41,2010.5V2049.5M97.22,2010.5V2049.5M112.12,2010.5V2049.5M120.65,2010.5V2049.5M140.15,2010.5V2049.5M151.12,2010.5V2049.5M175.98,2010.5V2049.5M192.11,2010.5V2049.5M195.13,2010.5V2049.5M239.6,2010.5V2049.5M252.28,2010.5V2049.5M279.09,2010.5V2049.5M291.28,2010.5V2049.5M297.46,2010.5V2049.5M299.97,2010.5V2049.5M302.3,2010.5V2049.5M313.94,2010.5V2049.5M319.04,2010.5V2049.5M321.22,2010.5V2049.5M329.2,2010.5V2049.5M330.73,2010.5V2049.5M332.54,2010.5V2049.5M339.11,2010.5V2049.5M340.53,2010.5V2049.5M342.01,2010.5V2049.5" stroke="#000" stroke-opacity="0.62" stroke-width="1.05" fill="none"/>
<path d="M92.14,2010.5V2049.5M96.05,2010.5V2049.5M98.03,2010.5V2049.5M114.07,2010.5V2049.5M121.87,2010.5V2049.5M143.81,2010.5V2049.5M153.56,2010.5V2049.5M190.32,2010.5V2049.5M193.1,2010.5V2049.5M219.37,2010.5V2049.5M241.31,2010.5V2049.5M254.71,2010.5V2049.5M281.53,2010.5V2049.5M293.71,2010.5V2049.5M297.72,2010.5V2049.5M300.3,2010.5V2049.5M302.95,2010.5V2049.5M317.41,2010.5V2049.5M319.36,2010.5V2049.5M324.18,2010.5V2049.5M329.39,2010.5V2049.5M331.16,2010.5V2049.5M333.33,2010.5V2049.5M339.35,2010.5V2049.5M340.66,2010.5V2049.5M342.41,2010.5V2049.5" stroke="#000" stroke-opacity="0.62" stroke-width="1.05" fill="none"/>
<path d="M94.19,2010.5V2049.5M96.5,2010.5V2049.5M98.86,2010.5V2049.5M115.78,2010.5V2049.5M126.75,2010.5V2049.5M146.25,2010.5V2049.5M156,2010.5V2049.5M190.48,2010.5V2049.5M193.88,2010.5V2049.5M224.25,2010.5V2049.5M244.96,2010.5V2049.5M257.15,2010.5V2049.5M285.18,2010.5V2049.5M295.85,2010.5V2049.5M298.78,2010.5V2049.5M300.86,2010.5V2049.5M308.34,2010.5V2049.5M317.9,2010.5V2049.5M319.98,2010.5V2049.5M328.16,2010.5V2049.5M329.89,2010.5V2049.5M331.74,2010.5V2049.5M333.64,2010.5V2049.5M339.65,2010.5V2049.5M341.36,2010.5V2049.5" stroke="#000" stroke-opacity="0.62" stroke-width="1.05" fill="none"/>
<path d="M81.17,2029.96 L84.09,2035.56 L86.53,2039.22 L87.75,2031.91 L89.7,2034.34 L91.4,2028.25 L93.11,2020.94 L95.06,2017.28 L97.01,2014.84 L98.23,2006.31 L99.45,1994.86 L102.37,2000.22 L107.25,2008.75 L112.12,2017.28 L113.34,2019.72 L115.78,2016.06 L118.22,2018.5 L120.65,2015.57 L123.09,2018.5 L126.75,2022.89 L134.06,2031.91 L146.25,2050.19 L157.22,2063.59 L170.62,2089.19 L195,2133.06 L224.25,2190.34 L246.18,2230.56 L258.37,2248.84 L275.43,2280.53 L277.14,2284.18 L282.75,2287.84 L286.4,2291.49 L296.15,2303.68 L303.46,2297.59 L305.9,2300.03 L309.56,2304.17 L311.99,2287.84 L316.87,2297.59 L319.31,2279.31 L321.26,2259.81 L323.69,2256.15 L327.84,2262.25 L329.54,2235.43 L331.98,2208.62 L333.93,2179.37 L335.88,2155 L338.81,2163.53 L340.03,2130.62 L340.76,2106.25 L341.24,2064.81 L341.73,2049.45" fill="none" stroke="#5DB145" stroke-width="1.3" stroke-linejoin="round"/>
<path d="M85.31,2037.39h0M87.14,2035.56h0M88.72,2033.12h0M90.55,2031.3h0M92.26,2024.59h0M93.6,2020.02h0M94.57,2018.19h0M96.04,2016.06h0M97.21,2013.42h0M97.62,2010.58h0M98.03,2007.73h0M98.43,2004.4h0M98.84,2000.58h0M99.25,1996.77h0M100.18,1996.2h0M101.64,1998.88h0M109.69,2013.01h0M112.73,2018.5h0M113.95,2018.8h0M115.17,2016.98h0M116.39,2016.67h0M117.61,2017.89h0M119.44,2017.04h0M121.26,2016.31h0M122.48,2017.77h0M124.92,2020.69h0M128.58,2025.14h0M132.23,2029.65h0M136.09,2034.95h0M140.15,2041.05h0M144.22,2047.14h0M147.34,2051.53h0M149.54,2054.21h0M151.73,2056.89h0M153.93,2059.57h0M156.12,2062.25h0M171.84,2091.38h0M174.28,2095.77h0M176.72,2100.15h0M179.15,2104.54h0M181.59,2108.93h0M184.03,2113.32h0M186.47,2117.7h0M188.9,2122.09h0M191.34,2126.48h0M193.78,2130.87h0M199.87,2142.61h0M209.62,2161.7h0M219.37,2180.79h0M226.44,2194.36h0M230.83,2202.41h0M235.21,2210.45h0M239.6,2218.49h0M243.99,2226.54h0M247.71,2232.84h0M250.75,2237.41h0M253.8,2241.98h0M256.85,2246.55h0M276.29,2282.35h0M278.07,2284.79h0M279.94,2286.01h0M281.81,2287.23h0M284.57,2289.67h0M287.62,2293.02h0M290.06,2296.06h0M292.5,2299.11h0M294.93,2302.16h0M296.88,2303.07h0M298.35,2301.85h0M299.81,2300.64h0M301.27,2299.42h0M302.73,2298.2h0M304.68,2298.81h0M307.73,2302.1h0M310.78,2296h0M313.21,2290.28h0M315.65,2295.15h0M317.11,2295.76h0M317.6,2292.1h0M318.09,2288.45h0M318.58,2284.79h0M319.06,2281.14h0M319.5,2277.36h0M319.89,2273.46h0M320.28,2269.56h0M320.67,2265.66h0M321.06,2261.76h0M321.87,2258.89h0M323.09,2257.07h0M324.73,2257.67h0M326.8,2260.72h0M328.01,2259.56h0M328.35,2254.2h0M328.69,2248.84h0M329.03,2243.48h0M329.37,2238.11h0M329.68,2233.94h0M329.95,2230.96h0M330.22,2227.99h0M330.49,2225.01h0M330.76,2222.03h0M331.03,2219.05h0M331.3,2216.07h0M331.58,2213.09h0M331.85,2210.11h0M332.14,2206.18h0M332.47,2201.31h0M332.79,2196.43h0M333.12,2191.56h0M333.44,2186.68h0M333.77,2181.81h0M334.42,2173.28h0M335.39,2161.09h0M336.61,2157.13h0M338.08,2161.4h0M338.93,2160.24h0M339.17,2153.66h0M339.42,2147.08h0M339.66,2140.49h0M339.9,2133.91h0M340.12,2127.58h0M340.3,2121.48h0M340.48,2115.39h0M340.67,2109.29h0M340.84,2099.34h0M341,2085.53h0M341.16,2071.72h0M341.33,2062.25h0M341.49,2057.13h0M341.65,2052.01h0" fill="none" stroke="#5DB145" stroke-width="1.75" stroke-linecap="round"/>
<rect x="68.5" y="1978.3" width="288.1" height="342" fill="none" stroke="#585858" stroke-width="1.3"/>
<text x="64.3" y="2036.56" font-size="19" text-anchor="end" fill="#4d4d4d" class="g">0.0</text>
<text x="64.3" y="2135.45" font-size="19" text-anchor="end" fill="#4d4d4d" class="g">-0.2</text>
<text x="64.3" y="2235.45" font-size="19" text-anchor="end" fill="#4d4d4d" class="g">-0.4</text>
<line x1="81.2" y1="2320.3" x2="81.2" y2="2323.5" stroke="#333" stroke-width="0.9"/>
<line x1="163.57" y1="2320.3" x2="163.57" y2="2323.5" stroke="#333" stroke-width="0.9"/>
<line x1="245.93" y1="2320.3" x2="245.93" y2="2323.5" stroke="#333" stroke-width="0.9"/>
<line x1="328.3" y1="2320.3" x2="328.3" y2="2323.5" stroke="#333" stroke-width="0.9"/>
<g transform="translate(24.2,2297.8) rotate(-90)" font-size="19.3">
<text x="0" y="0">Enrichment Score (</text>
<text transform="translate(166.5,0) scale(0.817,1)" font-style="italic">RISP</text>
<text x="204.3" y="-7.4" font-size="11.5" font-style="italic" letter-spacing="0.4">fl/fl</text>
<text x="225" y="0">/</text>
<text transform="translate(237.5,0) scale(0.822,1)" font-style="italic">RISP</text>
<text x="274.2" y="-7.4" font-size="11.5" font-style="italic" letter-spacing="0.15">fl/wt</text>
<text x="294" y="0">)</text>
</g>
<text x="14.9" y="1986" font-size="28.2">J</text>
<text x="83.4" y="2101.4" font-size="22.7" xml:space="preserve">Hallmark Interferon Alpha</text>
<text x="83.4" y="2128.7" font-size="22.7" xml:space="preserve">Response (MM3877)</text>
<text x="84" y="2152.1" font-size="19.3" xml:space="preserve">q = 4.12e-04</text>
</g>
<g class="th">
<line x1="71.8" y1="2390.9" x2="353.8" y2="2390.9" stroke="#F6F6F6" stroke-width="0.7"/>
<line x1="71.8" y1="2487.9" x2="353.8" y2="2487.9" stroke="#F6F6F6" stroke-width="0.7"/>
<line x1="71.8" y1="2584.9" x2="353.8" y2="2584.9" stroke="#F6F6F6" stroke-width="0.7"/>
<line x1="71.8" y1="2342.4" x2="353.8" y2="2342.4" stroke="#EFEFEF" stroke-width="1.1"/>
<line x1="71.8" y1="2439.4" x2="353.8" y2="2439.4" stroke="#EFEFEF" stroke-width="1.1"/>
<line x1="71.8" y1="2536.4" x2="353.8" y2="2536.4" stroke="#EFEFEF" stroke-width="1.1"/>
<line x1="71.8" y1="2633.4" x2="353.8" y2="2633.4" stroke="#EFEFEF" stroke-width="1.1"/>
<line x1="122.38" y1="2336.2" x2="122.38" y2="2669.4" stroke="#F6F6F6" stroke-width="0.7"/>
<line x1="204.75" y1="2336.2" x2="204.75" y2="2669.4" stroke="#F6F6F6" stroke-width="0.7"/>
<line x1="287.12" y1="2336.2" x2="287.12" y2="2669.4" stroke="#F6F6F6" stroke-width="0.7"/>
<line x1="81.2" y1="2336.2" x2="81.2" y2="2669.4" stroke="#EFEFEF" stroke-width="1.1"/>
<line x1="163.57" y1="2336.2" x2="163.57" y2="2669.4" stroke="#EFEFEF" stroke-width="1.1"/>
<line x1="245.93" y1="2336.2" x2="245.93" y2="2669.4" stroke="#EFEFEF" stroke-width="1.1"/>
<line x1="328.3" y1="2336.2" x2="328.3" y2="2669.4" stroke="#EFEFEF" stroke-width="1.1"/>
<line x1="69" y1="2348.8" x2="356.6" y2="2348.8" stroke="#E0604F" stroke-width="1.5" stroke-dasharray="3.2 2.65"/>
<line x1="69" y1="2657.6" x2="356.6" y2="2657.6" stroke="#E0604F" stroke-width="1.5" stroke-dasharray="3.2 2.65"/>
<line x1="69" y1="2635.2" x2="356.6" y2="2635.2" stroke="#000" stroke-width="1.25"/>
<path d="M81.64,2615.7V2654.7M83.56,2615.7V2654.7M86.18,2615.7V2654.7M88.8,2615.7V2654.7M90.87,2615.7V2654.7M93.63,2615.7V2654.7M97.99,2615.7V2654.7M107.25,2615.7V2654.7M123.9,2615.7V2654.7M127.42,2615.7V2654.7M131.68,2615.7V2654.7M134.67,2615.7V2654.7M151.61,2615.7V2654.7M164.87,2615.7V2654.7M177.93,2615.7V2654.7M208.89,2615.7V2654.7M237.65,2615.7V2654.7M268.85,2615.7V2654.7M287.61,2615.7V2654.7M289.63,2615.7V2654.7M310.78,2615.7V2654.7M338.81,2615.7V2654.7" stroke="#000" stroke-opacity="0.62" stroke-width="1.05" fill="none"/>
<path d="M82.26,2615.7V2654.7M84.56,2615.7V2654.7M87.02,2615.7V2654.7M89.21,2615.7V2654.7M91.69,2615.7V2654.7M94.16,2615.7V2654.7M101.15,2615.7V2654.7M110.9,2615.7V2654.7M125.4,2615.7V2654.7M128.38,2615.7V2654.7M132.24,2615.7V2654.7M136.05,2615.7V2654.7M153.56,2615.7V2654.7M165.55,2615.7V2654.7M180.37,2615.7V2654.7M231.56,2615.7V2654.7M239.36,2615.7V2654.7M272.26,2615.7V2654.7M287.64,2615.7V2654.7M298.59,2615.7V2654.7M325.89,2615.7V2654.7M340.76,2615.7V2654.7" stroke="#000" stroke-opacity="0.62" stroke-width="1.05" fill="none"/>
<path d="M82.66,2615.7V2654.7M85.04,2615.7V2654.7M87.32,2615.7V2654.7M89.88,2615.7V2654.7M92.44,2615.7V2654.7M94.86,2615.7V2654.7M103.59,2615.7V2654.7M112.61,2615.7V2654.7M126.28,2615.7V2654.7M129.65,2615.7V2654.7M132.77,2615.7V2654.7M136.91,2615.7V2654.7M157.22,2615.7V2654.7M173.55,2615.7V2654.7M185.25,2615.7V2654.7M233.51,2615.7V2654.7M253.5,2615.7V2654.7M283.23,2615.7V2654.7M288.45,2615.7V2654.7M299.81,2615.7V2654.7M329.06,2615.7V2654.7" stroke="#000" stroke-opacity="0.62" stroke-width="1.05" fill="none"/>
<path d="M83.12,2615.7V2654.7M85.82,2615.7V2654.7M88.24,2615.7V2654.7M90.56,2615.7V2654.7M92.71,2615.7V2654.7M95.15,2615.7V2654.7M106.03,2615.7V2654.7M118.22,2615.7V2654.7M126.85,2615.7V2654.7M130.22,2615.7V2654.7M134.05,2615.7V2654.7M140.15,2615.7V2654.7M164.13,2615.7V2654.7M174.28,2615.7V2654.7M190.12,2615.7V2654.7M234.48,2615.7V2654.7M262.03,2615.7V2654.7M286.89,2615.7V2654.7M289.21,2615.7V2654.7M304.68,2615.7V2654.7M330.28,2615.7V2654.7" stroke="#000" stroke-opacity="0.62" stroke-width="1.05" fill="none"/>
<path d="M81.17,2615.66 L81.65,2600.31 L82.39,2588.12 L83.36,2573.5 L84.09,2546.68 L84.58,2519.87 L85.31,2495.5 L87.26,2473.56 L88.97,2456.5 L90.19,2429.69 L91.4,2407.75 L93.11,2384.59 L94.57,2371.19 L95.55,2366.31 L97.5,2368.75 L99.94,2363.87 L102.37,2366.31 L104.81,2362.66 L107.25,2359 L109.69,2356.07 L112.12,2357.78 L114.56,2361.44 L118.22,2362.66 L120.65,2360.22 L124.31,2368.75 L126.75,2365.09 L129.19,2363.87 L131.62,2358.51 L134.06,2354.12 L137.23,2348.52 L141.37,2354.12 L146.25,2363.87 L152.34,2373.62 L158.43,2380.94 L165.75,2392.39 L175.5,2407.75 L195,2441.87 L219.37,2486.97 L238.87,2525.97 L253.5,2551.56 L270.56,2582.03 L283.96,2605.18 L290.06,2610.06 L298.59,2624.68 L304.68,2629.56 L311.99,2634.43 L319.31,2646.62 L325.4,2657.59 L327.84,2657.59 L330.28,2638.09 L333.93,2639.31 L338.81,2647.84 L340.76,2631.99 L341.98,2634.43" fill="none" stroke="#5DB145" stroke-width="1.3" stroke-linejoin="round"/>
<path d="M81.41,2607.99h0M81.78,2598.28h0M82.02,2594.21h0M82.26,2590.15h0M82.51,2586.29h0M82.75,2582.64h0M83,2578.98h0M83.24,2575.32h0M83.48,2569.03h0M83.73,2560.09h0M83.97,2551.15h0M84.17,2542.22h0M84.34,2533.28h0M84.5,2524.34h0M84.7,2515.81h0M84.95,2507.68h0M85.19,2499.56h0M85.51,2493.3h0M85.9,2488.92h0M86.29,2484.53h0M86.68,2480.14h0M87.07,2475.75h0M87.43,2471.85h0M87.77,2468.44h0M88.11,2465.03h0M88.46,2461.62h0M88.8,2458.2h0M89.12,2453.15h0M89.42,2446.44h0M89.73,2439.74h0M90.03,2433.04h0M90.34,2426.94h0M90.64,2421.46h0M90.95,2415.97h0M91.25,2410.49h0M91.58,2405.43h0M91.92,2400.8h0M92.26,2396.17h0M92.6,2391.54h0M92.94,2386.91h0M93.29,2382.92h0M93.66,2379.57h0M94.03,2376.21h0M94.39,2372.86h0M94.74,2370.37h0M95.06,2368.75h0M95.39,2367.12h0M96.52,2367.53h0M98.72,2366.31h0M101.15,2365.09h0M103.59,2364.48h0M105.42,2361.74h0M106.64,2359.91h0M108.47,2357.54h0M110.9,2356.93h0M113.34,2359.61h0M116.39,2362.05h0M119.44,2361.44h0M122.48,2364.48h0M124.92,2367.84h0M126.14,2366.01h0M127.97,2364.48h0M129.59,2362.98h0M130.4,2361.19h0M131.22,2359.41h0M132.03,2357.78h0M132.84,2356.32h0M133.65,2354.86h0M134.46,2353.42h0M135.25,2352.02h0M136.04,2350.62h0M136.83,2349.22h0M138.26,2349.92h0M140.34,2352.72h0M149.29,2368.75h0M153.86,2375.45h0M156.91,2379.11h0M159.65,2382.85h0M162.09,2386.66h0M164.53,2390.48h0M167.37,2394.95h0M170.62,2400.07h0M173.87,2405.19h0M177.93,2412.01h0M182.81,2420.55h0M187.68,2429.08h0M192.56,2437.61h0M207.18,2464.42h0M221.32,2490.87h0M225.22,2498.67h0M229.12,2506.47h0M233.02,2514.27h0M236.92,2522.07h0M242.53,2532.36h0M249.84,2545.16h0M256.34,2556.64h0M262.03,2566.79h0M267.71,2576.95h0M273.91,2587.82h0M280.61,2599.39h0M284.73,2605.79h0M286.25,2607.01h0M287.77,2608.23h0M289.3,2609.45h0M292.19,2613.71h0M296.46,2621.03h0M299.6,2625.49h0M301.64,2627.12h0M303.67,2628.74h0M306.51,2630.78h0M310.17,2633.21h0M322.35,2652.1h0M326.62,2657.59h0M328.45,2652.71h0M329.67,2642.96h0M332.1,2638.7h0M336.37,2643.57h0M339.29,2643.88h0M340.27,2635.96h0M341.37,2633.21h0" fill="none" stroke="#5DB145" stroke-width="1.75" stroke-linecap="round"/>
<rect x="69" y="2333.4" width="287.6" height="338.8" fill="none" stroke="#585858" stroke-width="1.3"/>
<line x1="65.1" y1="2342.4" x2="68.1" y2="2342.4" stroke="#333" stroke-width="1"/>
<text x="63.5" y="2349.09" font-size="19.4" text-anchor="end" fill="#4d4d4d" class="g">0.6</text>
<line x1="65.1" y1="2439.4" x2="68.1" y2="2439.4" stroke="#333" stroke-width="1"/>
<text x="63.5" y="2446.09" font-size="19.4" text-anchor="end" fill="#4d4d4d" class="g">0.4</text>
<line x1="65.1" y1="2536.9" x2="68.1" y2="2536.9" stroke="#333" stroke-width="1"/>
<text x="63.5" y="2543.59" font-size="19.4" text-anchor="end" fill="#4d4d4d" class="g">0.2</text>
<line x1="65.1" y1="2635.2" x2="68.1" y2="2635.2" stroke="#333" stroke-width="1"/>
<text x="63.5" y="2641.89" font-size="19.4" text-anchor="end" fill="#4d4d4d" class="g">0.0</text>
<line x1="81.2" y1="2672.2" x2="81.2" y2="2675.4" stroke="#333" stroke-width="0.9"/>
<text x="76" y="2690.5" font-size="19.3" text-anchor="middle">0</text>
<line x1="163.57" y1="2672.2" x2="163.57" y2="2675.4" stroke="#333" stroke-width="0.9"/>
<text x="162.27" y="2690.5" font-size="19.3" text-anchor="middle">10000</text>
<line x1="245.93" y1="2672.2" x2="245.93" y2="2675.4" stroke="#333" stroke-width="0.9"/>
<text x="244.63" y="2690.5" font-size="19.3" text-anchor="middle">20000</text>
<line x1="328.3" y1="2672.2" x2="328.3" y2="2675.4" stroke="#333" stroke-width="0.9"/>
<text x="327" y="2690.5" font-size="19.3" text-anchor="middle">30000</text>
<text x="211.6" y="2712.4" font-size="19.3" text-anchor="middle">Gene Rank</text>
<text transform="translate(21.8,2502.8) rotate(-90)" font-size="19.3" text-anchor="middle">Enrichment Score (2yr / 1yr)</text>
<text x="10" y="2349.2" font-size="28.2">K</text>
<text x="93.8" y="2429" font-size="22.7" xml:space="preserve">Hallmark Interferon Alpha</text>
<text x="101.2" y="2456.5" font-size="22.7" xml:space="preserve">Response (MM3877)</text>
<text x="95.5" y="2482.8" font-size="19.3" xml:space="preserve">q = 4.29e-05</text>
</g>
<g class="th">
<line x1="443.5" y1="2057.7" x2="722.1" y2="2057.7" stroke="#F6F6F6" stroke-width="0.7"/>
<line x1="443.5" y1="2140.1" x2="722.1" y2="2140.1" stroke="#F6F6F6" stroke-width="0.7"/>
<line x1="443.5" y1="2222.5" x2="722.1" y2="2222.5" stroke="#F6F6F6" stroke-width="0.7"/>
<line x1="443.5" y1="2304.9" x2="722.1" y2="2304.9" stroke="#F6F6F6" stroke-width="0.7"/>
<line x1="443.5" y1="2016.5" x2="722.1" y2="2016.5" stroke="#EFEFEF" stroke-width="1.1"/>
<line x1="443.5" y1="2098.9" x2="722.1" y2="2098.9" stroke="#EFEFEF" stroke-width="1.1"/>
<line x1="443.5" y1="2181.3" x2="722.1" y2="2181.3" stroke="#EFEFEF" stroke-width="1.1"/>
<line x1="443.5" y1="2263.7" x2="722.1" y2="2263.7" stroke="#EFEFEF" stroke-width="1.1"/>
<line x1="494.1" y1="1981.1" x2="494.1" y2="2315.5" stroke="#F6F6F6" stroke-width="0.7"/>
<line x1="575.5" y1="1981.1" x2="575.5" y2="2315.5" stroke="#F6F6F6" stroke-width="0.7"/>
<line x1="656.9" y1="1981.1" x2="656.9" y2="2315.5" stroke="#F6F6F6" stroke-width="0.7"/>
<line x1="453.4" y1="1981.1" x2="453.4" y2="2315.5" stroke="#EFEFEF" stroke-width="1.1"/>
<line x1="534.8" y1="1981.1" x2="534.8" y2="2315.5" stroke="#EFEFEF" stroke-width="1.1"/>
<line x1="616.2" y1="1981.1" x2="616.2" y2="2315.5" stroke="#EFEFEF" stroke-width="1.1"/>
<line x1="697.6" y1="1981.1" x2="697.6" y2="2315.5" stroke="#EFEFEF" stroke-width="1.1"/>
<line x1="440.7" y1="1994.4" x2="724.9" y2="1994.4" stroke="#E0604F" stroke-width="1.5" stroke-dasharray="3.2 2.65"/>
<line x1="440.7" y1="2303" x2="724.9" y2="2303" stroke="#E0604F" stroke-width="1.5" stroke-dasharray="3.2 2.65"/>
<line x1="440.7" y1="2016.5" x2="724.9" y2="2016.5" stroke="#000" stroke-width="1.25"/>
<path d="M453.47,1997V2035.6M455.01,1997V2035.6M459.47,1997V2035.6M462.5,1997V2035.6M467.63,1997V2035.6M470.28,1997V2035.6M472.21,1997V2035.6M478.36,1997V2035.6M481.82,1997V2035.6M485.09,1997V2035.6M488.08,1997V2035.6M491.08,1997V2035.6M497.72,1997V2035.6M520.38,1997V2035.6M526.16,1997V2035.6M530.16,1997V2035.6M562.31,1997V2035.6M603.01,1997V2035.6M622.78,1997V2035.6M648.78,1997V2035.6M651.64,1997V2035.6M654.65,1997V2035.6M660.79,1997V2035.6M663.63,1997V2035.6M666.51,1997V2035.6M669.52,1997V2035.6M672.52,1997V2035.6M676.13,1997V2035.6M678.82,1997V2035.6M682.95,1997V2035.6M686.31,1997V2035.6M688.54,1997V2035.6M690.89,1997V2035.6M693.39,1997V2035.6M695.37,1997V2035.6M697.46,1997V2035.6M699.89,1997V2035.6M702.03,1997V2035.6M704.13,1997V2035.6M705.16,1997V2035.6M706.3,1997V2035.6M707.37,1997V2035.6M708.38,1997V2035.6M709.63,1997V2035.6M710.83,1997V2035.6M711.74,1997V2035.6" stroke="#000" stroke-opacity="0.62" stroke-width="1.05" fill="none"/>
<path d="M453.78,1997V2035.6M455.32,1997V2035.6M460.44,1997V2035.6M463.47,1997V2035.6M468.44,1997V2035.6M470.32,1997V2035.6M472.8,1997V2035.6M479.47,1997V2035.6M482.23,1997V2035.6M485.69,1997V2035.6M488.75,1997V2035.6M492.14,1997V2035.6M501.37,1997V2035.6M523.98,1997V2035.6M527.35,1997V2035.6M535.5,1997V2035.6M566.7,1997V2035.6M618.9,1997V2035.6M630.07,1997V2035.6M649.12,1997V2035.6M652.32,1997V2035.6M655.57,1997V2035.6M661.81,1997V2035.6M664.61,1997V2035.6M667.23,1997V2035.6M670.37,1997V2035.6M673.56,1997V2035.6M676.92,1997V2035.6M681.2,1997V2035.6M683.75,1997V2035.6M686.77,1997V2035.6M689.22,1997V2035.6M691.52,1997V2035.6M693.89,1997V2035.6M695.95,1997V2035.6M698.03,1997V2035.6M700.3,1997V2035.6M702.75,1997V2035.6M704.28,1997V2035.6M705.37,1997V2035.6M706.58,1997V2035.6M707.62,1997V2035.6M708.92,1997V2035.6M709.77,1997V2035.6M711.06,1997V2035.6" stroke="#000" stroke-opacity="0.62" stroke-width="1.05" fill="none"/>
<path d="M454.32,1997V2035.6M455.57,1997V2035.6M460.88,1997V2035.6M466.1,1997V2035.6M468.82,1997V2035.6M471.43,1997V2035.6M473.53,1997V2035.6M480.31,1997V2035.6M483.02,1997V2035.6M486.39,1997V2035.6M489.94,1997V2035.6M492.89,1997V2035.6M506.25,1997V2035.6M524.49,1997V2035.6M528.57,1997V2035.6M544.03,1997V2035.6M567.92,1997V2035.6M620.69,1997V2035.6M633,1997V2035.6M650.19,1997V2035.6M653.39,1997V2035.6M655.87,1997V2035.6M662.44,1997V2035.6M664.88,1997V2035.6M667.94,1997V2035.6M671.24,1997V2035.6M674.4,1997V2035.6M677.24,1997V2035.6M682.02,1997V2035.6M684.51,1997V2035.6M687.19,1997V2035.6M690.01,1997V2035.6M692.12,1997V2035.6M694.51,1997V2035.6M696.35,1997V2035.6M698.68,1997V2035.6M700.84,1997V2035.6M703.13,1997V2035.6M704.58,1997V2035.6M705.85,1997V2035.6M706.74,1997V2035.6M708.05,1997V2035.6M709.08,1997V2035.6M710.18,1997V2035.6M711.21,1997V2035.6" stroke="#000" stroke-opacity="0.62" stroke-width="1.05" fill="none"/>
<path d="M454.48,1997V2035.6M456.1,1997V2035.6M461.58,1997V2035.6M466.77,1997V2035.6M469.32,1997V2035.6M471.69,1997V2035.6M474.45,1997V2035.6M480.89,1997V2035.6M483.93,1997V2035.6M487.39,1997V2035.6M490.65,1997V2035.6M493.96,1997V2035.6M508.2,1997V2035.6M526.03,1997V2035.6M528.93,1997V2035.6M554.51,1997V2035.6M595.21,1997V2035.6M621.89,1997V2035.6M639.09,1997V2035.6M650.88,1997V2035.6M654.24,1997V2035.6M657.14,1997V2035.6M662.79,1997V2035.6M665.97,1997V2035.6M669.24,1997V2035.6M672.37,1997V2035.6M675.42,1997V2035.6M678.1,1997V2035.6M682.16,1997V2035.6M685.47,1997V2035.6M688,1997V2035.6M690.42,1997V2035.6M692.34,1997V2035.6M695.04,1997V2035.6M697.22,1997V2035.6M699.22,1997V2035.6M701.49,1997V2035.6M703.92,1997V2035.6M704.88,1997V2035.6M706.17,1997V2035.6M707.03,1997V2035.6M708.15,1997V2035.6M709.25,1997V2035.6M710.58,1997V2035.6M711.52,1997V2035.6" stroke="#000" stroke-opacity="0.62" stroke-width="1.05" fill="none"/>
<path d="M453.35,2016.55 L453.84,1999 L456.28,1994.86 L459.94,1998.51 L464.81,2000.22 L472.12,1999 L481.87,2011.19 L494.06,2025.81 L506.25,2041.65 L520.87,2062.37 L530.62,2078.22 L555,2116 L579.37,2155 L603.75,2192.78 L623.25,2224.46 L640.31,2250.06 L652.5,2269.56 L664.68,2282.96 L676.87,2296.37 L681.74,2297.59 L686.62,2301.24 L690.28,2298.81 L693.93,2297.59 L697.59,2289.06 L700.03,2276.87 L702.46,2269.56 L704.9,2242.75 L707.34,2203.75 L709.04,2155 L710.51,2106.25 L711.48,2057.5 L711.97,2035.56" fill="none" stroke="#5DB145" stroke-width="1.3" stroke-linejoin="round"/>
<path d="M453.44,2013.62h0M453.6,2007.77h0M453.76,2001.92h0M454.25,1998.31h0M455.06,1996.93h0M455.87,1995.55h0M456.89,1995.47h0M458.11,1996.68h0M459.33,1997.9h0M460.75,1998.8h0M462.37,1999.36h0M464,1999.93h0M465.72,2000.07h0M467.55,1999.76h0M469.38,1999.46h0M471.21,1999.15h0M472.66,1999.68h0M473.75,2001.03h0M474.83,2002.38h0M475.91,2003.74h0M477,2005.09h0M478.08,2006.45h0M479.16,2007.8h0M480.25,2009.16h0M481.33,2010.51h0M482.43,2011.85h0M483.53,2013.18h0M484.64,2014.51h0M485.75,2015.84h0M486.86,2017.17h0M487.97,2018.5h0M489.07,2019.83h0M490.18,2021.16h0M491.29,2022.49h0M492.4,2023.82h0M493.51,2025.15h0M495.58,2027.79h0M498.63,2031.75h0M501.68,2035.71h0M504.72,2039.67h0M508.69,2045.11h0M513.56,2052.01h0M518.43,2058.92h0M521.41,2063.25h0M522.5,2065.01h0M523.58,2066.77h0M524.66,2068.53h0M525.75,2070.3h0M526.83,2072.06h0M527.91,2073.82h0M529,2075.58h0M530.08,2077.34h0M533.67,2082.94h0M539.76,2092.38h0M545.86,2101.83h0M551.95,2111.27h0M558.04,2120.87h0M564.14,2130.62h0M570.23,2140.37h0M576.32,2150.12h0M585.47,2164.44h0M597.65,2183.33h0M606.18,2196.74h0M611.06,2204.66h0M615.93,2212.58h0M620.81,2220.5h0M625.38,2227.66h0M629.64,2234.06h0M633.91,2240.46h0M638.18,2246.86h0M641.32,2251.68h0M643.35,2254.93h0M645.39,2258.18h0M647.42,2261.43h0M649.45,2264.68h0M651.48,2267.93h0M653.05,2270.17h0M654.16,2271.39h0M655.27,2272.6h0M656.37,2273.82h0M657.48,2275.04h0M658.59,2276.26h0M659.7,2277.48h0M660.8,2278.7h0M661.91,2279.92h0M663.02,2281.14h0M664.13,2282.35h0M665.24,2283.57h0M666.34,2284.79h0M667.45,2286.01h0M668.56,2287.23h0M669.67,2288.45h0M670.78,2289.67h0M671.88,2290.89h0M672.99,2292.1h0M674.1,2293.32h0M675.21,2294.54h0M676.32,2295.76h0M677.68,2296.57h0M679.31,2296.98h0M680.93,2297.39h0M682.56,2298.2h0M684.18,2299.42h0M685.81,2300.64h0M687.53,2300.64h0M689.36,2299.42h0M691.19,2298.5h0M693.02,2297.89h0M694.3,2296.74h0M695.03,2295.03h0M695.76,2293.32h0M696.49,2291.62h0M697.22,2289.91h0M697.76,2288.19h0M698.11,2286.45h0M698.46,2284.7h0M698.81,2282.96h0M699.16,2281.22h0M699.5,2279.48h0M699.85,2277.74h0M700.33,2275.96h0M700.94,2274.13h0M701.55,2272.3h0M702.16,2270.47h0M702.58,2268.22h0M702.83,2265.54h0M703.07,2262.85h0M703.32,2260.17h0M703.56,2257.49h0M703.8,2254.81h0M704.05,2252.13h0M704.29,2249.45h0M704.53,2246.77h0M704.78,2244.09h0M705,2241.12h0M705.21,2237.87h0M705.41,2234.62h0M705.61,2231.37h0M705.81,2228.12h0M706.02,2224.87h0M706.22,2221.62h0M706.42,2218.37h0M706.63,2215.12h0M706.83,2211.87h0M707.03,2208.62h0M707.24,2205.37h0M707.43,2201.04h0M707.62,2195.62h0M707.81,2190.2h0M708,2184.79h0M708.19,2179.37h0M708.38,2173.95h0M708.57,2168.54h0M708.76,2163.12h0M708.95,2157.71h0M709.13,2152.29h0M709.29,2146.87h0M709.45,2141.46h0M709.61,2136.04h0M709.78,2130.62h0M709.94,2125.21h0M710.1,2119.79h0M710.26,2114.37h0M710.43,2108.96h0M710.58,2102.77h0M710.72,2095.8h0M710.85,2088.84h0M710.99,2081.87h0M711.13,2074.91h0M711.27,2067.94h0M711.41,2060.98h0M711.54,2054.76h0M711.66,2049.27h0M711.79,2043.79h0M711.91,2038.3h0" fill="none" stroke="#5DB145" stroke-width="1.75" stroke-linecap="round"/>
<rect x="440.7" y="1978.3" width="284.2" height="340" fill="none" stroke="#585858" stroke-width="1.3"/>
<text x="436.1" y="2023.4" font-size="20" text-anchor="end">0.0</text>
<text x="436.1" y="2105.8" font-size="20" text-anchor="end">-0.2</text>
<text x="436.1" y="2188.2" font-size="20" text-anchor="end">-0.4</text>
<text x="436.1" y="2270.9" font-size="20" text-anchor="end">-0.6</text>
<line x1="453.4" y1="2318.3" x2="453.4" y2="2321.5" stroke="#333" stroke-width="0.9"/>
<line x1="534.8" y1="2318.3" x2="534.8" y2="2321.5" stroke="#333" stroke-width="0.9"/>
<line x1="616.2" y1="2318.3" x2="616.2" y2="2321.5" stroke="#333" stroke-width="0.9"/>
<line x1="697.6" y1="2318.3" x2="697.6" y2="2321.5" stroke="#333" stroke-width="0.9"/>
<g transform="translate(395,2307.3) rotate(-90)" font-size="19.3">
<text x="0" y="0">Enrichment Score (</text>
<text transform="translate(166.5,0) scale(0.817,1)" font-style="italic">RISP</text>
<text x="204.3" y="-7.4" font-size="11.5" font-style="italic" letter-spacing="0.4">fl/fl</text>
<text x="225" y="0">/</text>
<text transform="translate(237.5,0) scale(0.822,1)" font-style="italic">RISP</text>
<text x="274.2" y="-7.4" font-size="11.5" font-style="italic" letter-spacing="0.15">fl/wt</text>
<text x="294" y="0">)</text>
</g>
<text x="381.2" y="1986.85" font-size="28.2">L</text>
<text x="464.3" y="2104.5" font-size="22.7" xml:space="preserve">Hallmark TNFa Signaling</text>
<text x="464.3" y="2131.8" font-size="22.7" xml:space="preserve">via NFkB (MM3860)</text>
<text x="464.8" y="2158.2" font-size="19.3" xml:space="preserve">q = 2.08e-18</text>
<text x="653.8" y="2314.4" font-size="16.4" fill="#4d4d4d" class="g">-0.2</text>
</g>
<g class="th">
<line x1="441.3" y1="2427.25" x2="721.1" y2="2427.25" stroke="#F6F6F6" stroke-width="0.7"/>
<line x1="441.3" y1="2523.35" x2="721.1" y2="2523.35" stroke="#F6F6F6" stroke-width="0.7"/>
<line x1="441.3" y1="2619.45" x2="721.1" y2="2619.45" stroke="#F6F6F6" stroke-width="0.7"/>
<line x1="441.3" y1="2379.2" x2="721.1" y2="2379.2" stroke="#EFEFEF" stroke-width="1.1"/>
<line x1="441.3" y1="2475.3" x2="721.1" y2="2475.3" stroke="#EFEFEF" stroke-width="1.1"/>
<line x1="441.3" y1="2571.4" x2="721.1" y2="2571.4" stroke="#EFEFEF" stroke-width="1.1"/>
<line x1="441.3" y1="2667.5" x2="721.1" y2="2667.5" stroke="#EFEFEF" stroke-width="1.1"/>
<line x1="492.23" y1="2336.2" x2="492.23" y2="2670.6" stroke="#F6F6F6" stroke-width="0.7"/>
<line x1="573.9" y1="2336.2" x2="573.9" y2="2670.6" stroke="#F6F6F6" stroke-width="0.7"/>
<line x1="655.57" y1="2336.2" x2="655.57" y2="2670.6" stroke="#F6F6F6" stroke-width="0.7"/>
<line x1="451.4" y1="2336.2" x2="451.4" y2="2670.6" stroke="#EFEFEF" stroke-width="1.1"/>
<line x1="533.07" y1="2336.2" x2="533.07" y2="2670.6" stroke="#EFEFEF" stroke-width="1.1"/>
<line x1="614.73" y1="2336.2" x2="614.73" y2="2670.6" stroke="#EFEFEF" stroke-width="1.1"/>
<line x1="696.4" y1="2336.2" x2="696.4" y2="2670.6" stroke="#EFEFEF" stroke-width="1.1"/>
<line x1="438.5" y1="2348.8" x2="723.9" y2="2348.8" stroke="#E0604F" stroke-width="1.5" stroke-dasharray="3.2 2.65"/>
<line x1="438.5" y1="2658.3" x2="723.9" y2="2658.3" stroke="#E0604F" stroke-width="1.5" stroke-dasharray="3.2 2.65"/>
<line x1="438.5" y1="2475.3" x2="723.9" y2="2475.3" stroke="#000" stroke-width="1.25"/>
<path d="M451.59,2456V2495M454.72,2456V2495M458.43,2456V2495M461.31,2456V2495M466.05,2456V2495M477.43,2456V2495M481.54,2456V2495M490.86,2456V2495M500.27,2456V2495M504.71,2456V2495M520.87,2456V2495M531.84,2456V2495M550.12,2456V2495M563.53,2456V2495M600.07,2456V2495M611.06,2456V2495M631.05,2456V2495M642.75,2456V2495M658.59,2456V2495M676.27,2456V2495M680.3,2456V2495M686.71,2456V2495M691.05,2456V2495M694.42,2456V2495M697.9,2456V2495M700.03,2456V2495M702.69,2456V2495M704.56,2456V2495M705.95,2456V2495M707.62,2456V2495M708.89,2456V2495M710.48,2456V2495" stroke="#000" stroke-opacity="0.62" stroke-width="1.05" fill="none"/>
<path d="M453,2456V2495M455.67,2456V2495M459.09,2456V2495M462.64,2456V2495M467.57,2456V2495M479.03,2456V2495M483.39,2456V2495M492.43,2456V2495M501.68,2456V2495M508.69,2456V2495M523.8,2456V2495M534.28,2456V2495M555,2456V2495M578.64,2456V2495M601.1,2456V2495M617.15,2456V2495M636.16,2456V2495M646.4,2456V2495M662.25,2456V2495M677.49,2456V2495M681.92,2456V2495M688.16,2456V2495M691.65,2456V2495M695.31,2456V2495M698.62,2456V2495M700.84,2456V2495M703.58,2456V2495M704.84,2456V2495M706.52,2456V2495M707.83,2456V2495M709.32,2456V2495M710.73,2456V2495" stroke="#000" stroke-opacity="0.62" stroke-width="1.05" fill="none"/>
<path d="M453.13,2456V2495M457.09,2456V2495M459.9,2456V2495M462.85,2456V2495M471.64,2456V2495M479.54,2456V2495M483.46,2456V2495M493.25,2456V2495M503.2,2456V2495M511.12,2456V2495M527.7,2456V2495M540.37,2456V2495M556.95,2456V2495M596.53,2456V2495M603.67,2456V2495M621.54,2456V2495M639.09,2456V2495M650.06,2456V2495M665.9,2456V2495M678.72,2456V2495M682.19,2456V2495M689.09,2456V2495M692.28,2456V2495M695.83,2456V2495M698.94,2456V2495M701.41,2456V2495M704.01,2456V2495M705.39,2456V2495M706.72,2456V2495M708.13,2456V2495M709.69,2456V2495" stroke="#000" stroke-opacity="0.62" stroke-width="1.05" fill="none"/>
<path d="M454.41,2456V2495M457.26,2456V2495M460.74,2456V2495M465.1,2456V2495M472.61,2456V2495M480.32,2456V2495M485.12,2456V2495M494.9,2456V2495M504.03,2456V2495M516,2456V2495M529.4,2456V2495M543.3,2456V2495M561.09,2456V2495M599.28,2456V2495M607.4,2456V2495M630.07,2456V2495M640.8,2456V2495M653.71,2456V2495M670.78,2456V2495M679.15,2456V2495M683.93,2456V2495M690.23,2456V2495M693.16,2456V2495M697.5,2456V2495M699.56,2456V2495M702.11,2456V2495M704.11,2456V2495M705.87,2456V2495M706.98,2456V2495M708.59,2456V2495M710.05,2456V2495" stroke="#000" stroke-opacity="0.62" stroke-width="1.05" fill="none"/>
<path d="M451.4,2456.01 L452.14,2441.87 L453.11,2437 L455.06,2424.81 L457.01,2410.19 L458.72,2385.81 L460.42,2371.19 L462.86,2359 L464.81,2357.78 L468.47,2352.91 L472.12,2354.12 L475.78,2359 L479.44,2355.34 L483.09,2352.91 L485.53,2348.76 L489.19,2355.34 L494.06,2357.78 L500.15,2367.53 L503.81,2368.02 L511.12,2378.5 L530.62,2410.19 L555,2451.62 L569.62,2480.87 L579.37,2500.37 L594,2528.4 L615.93,2563.75 L630.56,2590.56 L645.18,2612.5 L659.81,2634.43 L669.56,2645.4 L676.87,2653.93 L681.74,2652.71 L687.84,2657.59 L693.93,2650.28 L697.59,2636.87 L700.03,2622.25 L703.68,2616.15 L705.63,2588.12 L707.34,2551.56 L709.04,2515 L710.51,2495.01" fill="none" stroke="#5DB145" stroke-width="1.3" stroke-linejoin="round"/>
<path d="M451.77,2448.94h0M452.3,2441.06h0M452.62,2439.44h0M452.95,2437.81h0M453.35,2435.47h0M453.84,2432.43h0M454.33,2429.38h0M454.82,2426.33h0M455.3,2422.98h0M455.79,2419.33h0M456.28,2415.67h0M456.77,2412.01h0M457.22,2407.14h0M457.65,2401.05h0M458.08,2394.95h0M458.5,2388.86h0M458.93,2383.98h0M459.36,2380.33h0M459.78,2376.67h0M460.21,2373.01h0M460.67,2369.97h0M461.15,2367.53h0M461.64,2365.09h0M462.13,2362.66h0M462.62,2360.22h0M463.84,2358.39h0M465.42,2356.97h0M466.64,2355.34h0M467.86,2353.72h0M469.38,2353.21h0M471.21,2353.82h0M473.04,2355.34h0M474.87,2357.78h0M476.39,2358.39h0M477.61,2357.17h0M478.83,2355.95h0M480.35,2354.73h0M482.18,2353.52h0M483.5,2352.22h0M484.31,2350.83h0M485.12,2349.45h0M487.36,2352.05h0M490,2355.75h0M491.62,2356.56h0M493.25,2357.37h0M495.58,2360.22h0M498.63,2365.09h0M501.07,2367.65h0M502.9,2367.9h0M504.72,2369.33h0M506.55,2371.95h0M508.38,2374.57h0M510.21,2377.19h0M512.75,2381.14h0M516,2386.42h0M519.25,2391.7h0M522.5,2396.98h0M525.75,2402.26h0M529,2407.55h0M532.65,2413.64h0M536.72,2420.55h0M540.78,2427.45h0M544.84,2434.36h0M548.9,2441.26h0M552.97,2448.17h0M556.82,2455.28h0M560.48,2462.59h0M564.14,2469.9h0M567.79,2477.22h0M574.5,2490.62h0M595.56,2530.93h0M598.7,2535.98h0M601.83,2541.03h0M604.96,2546.07h0M608.1,2551.12h0M611.23,2556.17h0M614.37,2561.22h0M617.76,2567.1h0M621.42,2573.8h0M625.07,2580.5h0M628.73,2587.21h0M631.78,2592.39h0M634.21,2596.04h0M636.65,2599.7h0M639.09,2603.35h0M641.53,2607.01h0M643.96,2610.67h0M647.01,2615.24h0M650.67,2620.72h0M654.32,2626.21h0M657.98,2631.69h0M662.25,2637.17h0M667.12,2642.66h0M671.39,2647.53h0M675.04,2651.8h0M677.68,2653.73h0M679.31,2653.32h0M680.93,2652.92h0M682.51,2653.32h0M684.03,2654.54h0M685.55,2655.76h0M687.08,2656.98h0M688.45,2656.86h0M689.67,2655.39h0M690.89,2653.93h0M692.1,2652.47h0M693.32,2651.01h0M694.3,2648.94h0M695.03,2646.25h0M695.76,2643.57h0M696.49,2640.89h0M697.22,2638.21h0M697.79,2635.65h0M698.2,2633.21h0M698.6,2630.78h0M699.01,2628.34h0M699.42,2625.9h0M699.82,2623.46h0M700.48,2621.48h0M701.4,2619.96h0M702.31,2618.44h0M703.22,2616.91h0M703.82,2614.15h0M704.1,2610.14h0M704.38,2606.14h0M704.66,2602.14h0M704.94,2598.13h0M705.21,2594.13h0M705.49,2590.12h0M705.75,2585.51h0M706,2580.29h0M706.24,2575.06h0M706.48,2569.84h0M706.73,2564.62h0M706.97,2559.39h0M707.22,2554.17h0M707.46,2548.95h0M707.7,2543.72h0M707.95,2538.5h0M708.19,2533.28h0M708.43,2528.05h0M708.68,2522.83h0M708.92,2517.61h0M709.15,2513.57h0M709.36,2510.71h0M709.57,2507.86h0M709.78,2505h0M709.98,2502.15h0M710.19,2499.29h0M710.4,2496.44h0" fill="none" stroke="#5DB145" stroke-width="1.75" stroke-linecap="round"/>
<rect x="438.5" y="2333.4" width="285.4" height="340" fill="none" stroke="#585858" stroke-width="1.3"/>
<line x1="433.9" y1="2379.2" x2="436.9" y2="2379.2" stroke="#333" stroke-width="1"/>
<text x="432.3" y="2385.89" font-size="19.4" text-anchor="end">0.2</text>
<line x1="433.9" y1="2475.3" x2="436.9" y2="2475.3" stroke="#333" stroke-width="1"/>
<text x="432.3" y="2481.99" font-size="19.4" text-anchor="end">0.0</text>
<line x1="433.9" y1="2571.1" x2="436.9" y2="2571.1" stroke="#333" stroke-width="1"/>
<text x="432.3" y="2577.79" font-size="19.4" text-anchor="end">-0.2</text>
<line x1="433.9" y1="2667.1" x2="436.9" y2="2667.1" stroke="#333" stroke-width="1"/>
<text x="432.3" y="2673.79" font-size="19.4" text-anchor="end">-0.4</text>
<line x1="451.4" y1="2673.4" x2="451.4" y2="2676.6" stroke="#333" stroke-width="0.9"/>
<text x="445.4" y="2690.5" font-size="19.3" text-anchor="middle">0</text>
<line x1="533.07" y1="2673.4" x2="533.07" y2="2676.6" stroke="#333" stroke-width="0.9"/>
<text x="531.77" y="2690.5" font-size="19.3" text-anchor="middle">10000</text>
<line x1="614.73" y1="2673.4" x2="614.73" y2="2676.6" stroke="#333" stroke-width="0.9"/>
<text x="613.43" y="2690.5" font-size="19.3" text-anchor="middle">20000</text>
<line x1="696.4" y1="2673.4" x2="696.4" y2="2676.6" stroke="#333" stroke-width="0.9"/>
<text x="695.1" y="2690.5" font-size="19.3" text-anchor="middle">30000</text>
<text x="581.3" y="2713.7" font-size="19.3" text-anchor="middle">Gene Rank</text>
<text transform="translate(396,2507.5) rotate(-90)" font-size="19.3" text-anchor="middle">Enrichment Score (2yr / 1yr)</text>
<text x="380.4" y="2349.2" font-size="28.2">M</text>
<text x="456.3" y="2530.8" font-size="22.7" xml:space="preserve">Hallmark TNFa Signaling</text>
<text x="456.3" y="2557.7" font-size="22.7" xml:space="preserve">via NFkB (MM3860)</text>
<text x="456.8" y="2583.2" font-size="19.3" xml:space="preserve">q = 2.95e-03</text>
</g>
<g class="th2">
<text x="739.4" y="1986.7" font-size="28.2">N</text>
<path d="M839.15,2288.1V2163.25H874.35V2288.1" fill="#fff" stroke="#000" stroke-width="4.1" stroke-linejoin="miter"/>
<path d="M898.55,2288.1V2155.35H933.95V2288.1" fill="#fff" stroke="#3B5CAB" stroke-width="4.1" stroke-linejoin="miter"/>
<path d="M957.85,2288.1V2168.55H993.25V2288.1" fill="#fff" stroke="#000" stroke-width="4.1" stroke-linejoin="miter"/>
<line x1="856.6" y1="2144.7" x2="856.6" y2="2177.5" stroke="#000" stroke-width="1.8"/>
<line x1="846.4" y1="2144.7" x2="866.8" y2="2144.7" stroke="#000" stroke-width="1.8"/>
<line x1="846.4" y1="2177.5" x2="866.8" y2="2177.5" stroke="#000" stroke-width="1.8"/>
<line x1="916" y1="2147.4" x2="916" y2="2160.6" stroke="#3B5CAB" stroke-width="1.8"/>
<line x1="905.8" y1="2147.4" x2="926.2" y2="2147.4" stroke="#3B5CAB" stroke-width="1.8"/>
<line x1="905.8" y1="2160.6" x2="926.2" y2="2160.6" stroke="#3B5CAB" stroke-width="1.8"/>
<line x1="975.5" y1="2135.3" x2="975.5" y2="2197.2" stroke="#000" stroke-width="1.8"/>
<line x1="965.3" y1="2135.3" x2="985.7" y2="2135.3" stroke="#000" stroke-width="1.8"/>
<line x1="965.3" y1="2197.2" x2="985.7" y2="2197.2" stroke="#000" stroke-width="1.8"/>
<circle cx="847.47" cy="2121.69" r="4.6" fill="#000"/>
<circle cx="865.76" cy="2115.79" r="4.6" fill="#000"/>
<circle cx="856.61" cy="2147.36" r="4.6" fill="#000"/>
<circle cx="856.61" cy="2171.85" r="4.6" fill="#000"/>
<circle cx="856.61" cy="2195.16" r="4.6" fill="#000"/>
<circle cx="856.61" cy="2213.75" r="4.6" fill="#000"/>
<circle cx="910.9" cy="2114.91" r="4.6" fill="#3B5CAB"/>
<circle cx="921.23" cy="2111.96" r="4.6" fill="#3B5CAB"/>
<circle cx="910.9" cy="2143.82" r="4.6" fill="#3B5CAB"/>
<circle cx="921.23" cy="2139.4" r="4.6" fill="#3B5CAB"/>
<circle cx="900.58" cy="2152.67" r="4.6" fill="#3B5CAB"/>
<circle cx="910.9" cy="2154.74" r="4.6" fill="#3B5CAB"/>
<circle cx="921.23" cy="2150.31" r="4.6" fill="#3B5CAB"/>
<circle cx="931.56" cy="2150.31" r="4.6" fill="#3B5CAB"/>
<circle cx="921.23" cy="2160.64" r="4.6" fill="#3B5CAB"/>
<circle cx="910.9" cy="2168.9" r="4.6" fill="#3B5CAB"/>
<circle cx="910.9" cy="2196.93" r="4.6" fill="#3B5CAB"/>
<circle cx="921.23" cy="2195.46" r="4.6" fill="#3B5CAB"/>
<circle cx="975.52" cy="2040.85" r="4.05" fill="none" stroke="#000" stroke-width="2.5"/>
<circle cx="975.52" cy="2116.97" r="4.05" fill="none" stroke="#000" stroke-width="2.5"/>
<circle cx="975.52" cy="2168.31" r="4.05" fill="none" stroke="#000" stroke-width="2.5"/>
<circle cx="975.52" cy="2204.31" r="4.05" fill="none" stroke="#000" stroke-width="2.5"/>
<circle cx="975.52" cy="2219.06" r="4.05" fill="none" stroke="#000" stroke-width="2.5"/>
<circle cx="975.52" cy="2247.98" r="4.05" fill="none" stroke="#000" stroke-width="2.5"/>
<line x1="817.4" y1="1988.9" x2="817.4" y2="2289.6" stroke="#000" stroke-width="3"/>
<line x1="804.2" y1="2288.1" x2="1015.1" y2="2288.1" stroke="#000" stroke-width="3"/>
<line x1="804.2" y1="1990.4" x2="817.4" y2="1990.4" stroke="#000" stroke-width="3"/>
<text x="799.4" y="1997.7" font-size="22.8" text-anchor="end">40</text>
<line x1="804.2" y1="2065.3" x2="817.4" y2="2065.3" stroke="#000" stroke-width="3"/>
<text x="799.4" y="2072.6" font-size="22.8" text-anchor="end">30</text>
<line x1="804.2" y1="2139.7" x2="817.4" y2="2139.7" stroke="#000" stroke-width="3"/>
<text x="799.4" y="2147" font-size="22.8" text-anchor="end">20</text>
<line x1="804.2" y1="2214.1" x2="817.4" y2="2214.1" stroke="#000" stroke-width="3"/>
<text x="799.4" y="2221.4" font-size="22.8" text-anchor="end">10</text>
<line x1="804.2" y1="2288.1" x2="817.4" y2="2288.1" stroke="#000" stroke-width="3"/>
<text x="799.4" y="2295.4" font-size="22.8" text-anchor="end">0</text>
<line x1="856.3" y1="2288.1" x2="856.3" y2="2300.8" stroke="#000" stroke-width="3"/>
<line x1="915.9" y1="2288.1" x2="915.9" y2="2300.8" stroke="#000" stroke-width="3"/>
<line x1="975.5" y1="2288.1" x2="975.5" y2="2300.8" stroke="#000" stroke-width="3"/>
<text transform="translate(758.2,2131.1) rotate(-90)" font-size="21.75" text-anchor="middle">% total time in center</text>
</g>
<g>
<circle cx="1020.4" cy="2019.4" r="3.75" fill="#000"/>
<circle cx="1020.4" cy="2052.4" r="3.75" fill="#3B5CAB"/>
<circle cx="1020.4" cy="2085.5" r="3.5" fill="none" stroke="#000" stroke-width="2.1"/>
<text transform="translate(1032.5,2025.85) scale(0.74,1)" font-size="18.8" font-style="italic">RISP</text>
<text x="1064.8" y="2019.6" font-size="11.3" font-style="italic" letter-spacing="0">fl/wt</text>
<text x="1090.3" y="2025.85" font-size="18.6">1 yr</text>
<text transform="translate(1032.5,2058.8) scale(0.74,1)" font-size="18.8" font-style="italic">RISP</text>
<text x="1064.8" y="2052.55" font-size="11.3" font-style="italic" letter-spacing="0">fl/fl</text>
<text x="1090.3" y="2058.8" font-size="18.6">1 yr</text>
<text transform="translate(1032.5,2091.6) scale(0.74,1)" font-size="18.8" font-style="italic">RISP</text>
<text x="1064.8" y="2085.35" font-size="11.3" font-style="italic" letter-spacing="0">fl/wt</text>
<text x="1090.3" y="2091.6" font-size="18.6">2yr</text>
</g>
<g class="th2">
<text x="745.8" y="2348.8" font-size="28.2">O</text>
<path d="M845.25,2654.1V2476.45H879.95V2654.1" fill="#fff" stroke="#000" stroke-width="4.1" stroke-linejoin="miter"/>
<path d="M904.65,2654.1V2463.85H939.75V2654.1" fill="#fff" stroke="#3B5CAB" stroke-width="4.1" stroke-linejoin="miter"/>
<path d="M964.15,2654.1V2464.45H999.35V2654.1" fill="#fff" stroke="#000" stroke-width="4.1" stroke-linejoin="miter"/>
<line x1="862.6" y1="2463.5" x2="862.6" y2="2484.7" stroke="#000" stroke-width="1.8"/>
<line x1="852.4" y1="2463.5" x2="872.8" y2="2463.5" stroke="#000" stroke-width="1.8"/>
<line x1="852.4" y1="2484.7" x2="872.8" y2="2484.7" stroke="#000" stroke-width="1.8"/>
<line x1="922" y1="2451.5" x2="922" y2="2472" stroke="#3B5CAB" stroke-width="1.8"/>
<line x1="911.8" y1="2451.5" x2="932.2" y2="2451.5" stroke="#3B5CAB" stroke-width="1.8"/>
<line x1="911.8" y1="2472" x2="932.2" y2="2472" stroke="#3B5CAB" stroke-width="1.8"/>
<line x1="981.7" y1="2447.2" x2="981.7" y2="2477" stroke="#000" stroke-width="1.8"/>
<line x1="971.5" y1="2447.2" x2="991.9" y2="2447.2" stroke="#000" stroke-width="1.8"/>
<line x1="971.5" y1="2477" x2="991.9" y2="2477" stroke="#000" stroke-width="1.8"/>
<circle cx="862.85" cy="2431.23" r="4.6" fill="#000"/>
<circle cx="862.85" cy="2450.2" r="4.6" fill="#000"/>
<circle cx="862.85" cy="2465.03" r="4.6" fill="#000"/>
<circle cx="853.47" cy="2480.3" r="4.6" fill="#000"/>
<circle cx="862.85" cy="2480.3" r="4.6" fill="#000"/>
<circle cx="871.57" cy="2480.3" r="4.6" fill="#000"/>
<circle cx="862.85" cy="2502.1" r="4.6" fill="#000"/>
<circle cx="862.85" cy="2511.92" r="4.6" fill="#000"/>
<circle cx="922.17" cy="2409.42" r="4.6" fill="#3B5CAB"/>
<circle cx="906.9" cy="2424.03" r="4.6" fill="#3B5CAB"/>
<circle cx="937.65" cy="2426.21" r="4.6" fill="#3B5CAB"/>
<circle cx="922.17" cy="2432.75" r="4.6" fill="#3B5CAB"/>
<circle cx="906.9" cy="2441.48" r="4.6" fill="#3B5CAB"/>
<circle cx="922.17" cy="2442.57" r="4.6" fill="#3B5CAB"/>
<circle cx="937.65" cy="2450.2" r="4.6" fill="#3B5CAB"/>
<circle cx="906.9" cy="2457.83" r="4.6" fill="#3B5CAB"/>
<circle cx="922.17" cy="2457.83" r="4.6" fill="#3B5CAB"/>
<circle cx="922.17" cy="2482.48" r="4.6" fill="#3B5CAB"/>
<circle cx="922.17" cy="2492.29" r="4.6" fill="#3B5CAB"/>
<circle cx="914.53" cy="2538.52" r="4.6" fill="#3B5CAB"/>
<circle cx="930.02" cy="2534.38" r="4.6" fill="#3B5CAB"/>
<circle cx="981.71" cy="2400.04" r="4.4" fill="none" stroke="#000" stroke-width="2.8"/>
<circle cx="976.25" cy="2411.6" r="4.4" fill="none" stroke="#000" stroke-width="2.8"/>
<circle cx="987.16" cy="2414.43" r="4.4" fill="none" stroke="#000" stroke-width="2.8"/>
<circle cx="981.71" cy="2425.34" r="4.4" fill="none" stroke="#000" stroke-width="2.8"/>
<circle cx="981.71" cy="2449.33" r="4.4" fill="none" stroke="#000" stroke-width="2.8"/>
<circle cx="981.71" cy="2478.77" r="4.4" fill="none" stroke="#000" stroke-width="2.8"/>
<circle cx="976.25" cy="2507.99" r="4.4" fill="none" stroke="#000" stroke-width="2.8"/>
<circle cx="987.16" cy="2509.74" r="4.4" fill="none" stroke="#000" stroke-width="2.8"/>
<circle cx="997.41" cy="2509.08" r="4.4" fill="none" stroke="#000" stroke-width="2.8"/>
<circle cx="966" cy="2516.93" r="4.4" fill="none" stroke="#000" stroke-width="2.8"/>
<line x1="823.6" y1="2356" x2="823.6" y2="2655.6" stroke="#000" stroke-width="3"/>
<line x1="810.4" y1="2654.1" x2="1021.4" y2="2654.1" stroke="#000" stroke-width="3"/>
<line x1="810.4" y1="2357.5" x2="823.6" y2="2357.5" stroke="#000" stroke-width="3"/>
<text x="805.6" y="2364.8" font-size="22.8" text-anchor="end">300</text>
<line x1="810.4" y1="2456.5" x2="823.6" y2="2456.5" stroke="#000" stroke-width="3"/>
<text x="805.6" y="2463.8" font-size="22.8" text-anchor="end">200</text>
<line x1="810.4" y1="2555.1" x2="823.6" y2="2555.1" stroke="#000" stroke-width="3"/>
<text x="805.6" y="2562.4" font-size="22.8" text-anchor="end">100</text>
<line x1="810.4" y1="2654.1" x2="823.6" y2="2654.1" stroke="#000" stroke-width="3"/>
<text x="805.6" y="2661.4" font-size="22.8" text-anchor="end">0</text>
<line x1="862.4" y1="2654.1" x2="862.4" y2="2666.8" stroke="#000" stroke-width="3"/>
<line x1="922" y1="2654.1" x2="922" y2="2666.8" stroke="#000" stroke-width="3"/>
<line x1="981.7" y1="2654.1" x2="981.7" y2="2666.8" stroke="#000" stroke-width="3"/>
<text transform="translate(750.5,2502.6) rotate(-90)" font-size="21.75" text-anchor="middle">Time to Fall (s)</text>
</g>
<g class="th2">
<path d="M1136.15,2654.1V2458.35H1171.05V2654.1" fill="#fff" stroke="#000" stroke-width="4.1" stroke-linejoin="miter"/>
<path d="M1195.65,2654.1V2447.85H1230.65V2654.1" fill="#fff" stroke="#3B5CAB" stroke-width="4.1" stroke-linejoin="miter"/>
<path d="M1255.25,2654.1V2446.35H1290.15V2654.1" fill="#fff" stroke="#000" stroke-width="4.1" stroke-linejoin="miter"/>
<line x1="1153.6" y1="2446.5" x2="1153.6" y2="2465" stroke="#000" stroke-width="1.8"/>
<line x1="1143.4" y1="2446.5" x2="1163.8" y2="2446.5" stroke="#000" stroke-width="1.8"/>
<line x1="1143.4" y1="2465" x2="1163.8" y2="2465" stroke="#000" stroke-width="1.8"/>
<line x1="1213.1" y1="2436.7" x2="1213.1" y2="2455.2" stroke="#3B5CAB" stroke-width="1.8"/>
<line x1="1202.9" y1="2436.7" x2="1223.3" y2="2436.7" stroke="#3B5CAB" stroke-width="1.8"/>
<line x1="1202.9" y1="2455.2" x2="1223.3" y2="2455.2" stroke="#3B5CAB" stroke-width="1.8"/>
<line x1="1272.7" y1="2431.7" x2="1272.7" y2="2455.7" stroke="#000" stroke-width="1.8"/>
<line x1="1262.5" y1="2431.7" x2="1282.9" y2="2431.7" stroke="#000" stroke-width="1.8"/>
<line x1="1262.5" y1="2455.7" x2="1282.9" y2="2455.7" stroke="#000" stroke-width="1.8"/>
<circle cx="1153.69" cy="2417.7" r="4.6" fill="#000"/>
<circle cx="1153.69" cy="2435.59" r="4.6" fill="#000"/>
<circle cx="1153.69" cy="2447.58" r="4.6" fill="#000"/>
<circle cx="1145.4" cy="2461.76" r="4.6" fill="#000"/>
<circle cx="1153.69" cy="2461.76" r="4.6" fill="#000"/>
<circle cx="1162.41" cy="2459.58" r="4.6" fill="#000"/>
<circle cx="1153.69" cy="2480.95" r="4.6" fill="#000"/>
<circle cx="1153.69" cy="2489.67" r="4.6" fill="#000"/>
<circle cx="1213.44" cy="2399.6" r="4.6" fill="#3B5CAB"/>
<circle cx="1197.74" cy="2410.51" r="4.6" fill="#3B5CAB"/>
<circle cx="1228.93" cy="2411.6" r="4.6" fill="#3B5CAB"/>
<circle cx="1213.44" cy="2419.67" r="4.6" fill="#3B5CAB"/>
<circle cx="1197.74" cy="2431.23" r="4.6" fill="#3B5CAB"/>
<circle cx="1228.93" cy="2427.95" r="4.6" fill="#3B5CAB"/>
<circle cx="1213.44" cy="2432.75" r="4.6" fill="#3B5CAB"/>
<circle cx="1213.44" cy="2443.22" r="4.6" fill="#3B5CAB"/>
<circle cx="1228.93" cy="2450.85" r="4.6" fill="#3B5CAB"/>
<circle cx="1197.74" cy="2455.65" r="4.6" fill="#3B5CAB"/>
<circle cx="1213.44" cy="2463.28" r="4.6" fill="#3B5CAB"/>
<circle cx="1213.44" cy="2473.32" r="4.6" fill="#3B5CAB"/>
<circle cx="1205.38" cy="2512.57" r="4.6" fill="#3B5CAB"/>
<circle cx="1221.08" cy="2510.39" r="4.6" fill="#3B5CAB"/>
<circle cx="1272.98" cy="2389.13" r="4.4" fill="none" stroke="#000" stroke-width="2.8"/>
<circle cx="1263.82" cy="2402.44" r="4.4" fill="none" stroke="#000" stroke-width="2.8"/>
<circle cx="1281.71" cy="2401.78" r="4.4" fill="none" stroke="#000" stroke-width="2.8"/>
<circle cx="1272.98" cy="2417.05" r="4.4" fill="none" stroke="#000" stroke-width="2.8"/>
<circle cx="1263.82" cy="2451.51" r="4.4" fill="none" stroke="#000" stroke-width="2.8"/>
<circle cx="1281.71" cy="2458.92" r="4.4" fill="none" stroke="#000" stroke-width="2.8"/>
<circle cx="1263.82" cy="2463.28" r="4.4" fill="none" stroke="#000" stroke-width="2.8"/>
<circle cx="1263.82" cy="2479.2" r="4.4" fill="none" stroke="#000" stroke-width="2.8"/>
<circle cx="1281.71" cy="2486.84" r="4.4" fill="none" stroke="#000" stroke-width="2.8"/>
<circle cx="1263.82" cy="2492.29" r="4.4" fill="none" stroke="#000" stroke-width="2.8"/>
<line x1="1114.9" y1="2355.1" x2="1114.9" y2="2655.6" stroke="#000" stroke-width="3"/>
<line x1="1101.7" y1="2654.1" x2="1312.3" y2="2654.1" stroke="#000" stroke-width="3"/>
<line x1="1101.7" y1="2356.6" x2="1114.9" y2="2356.6" stroke="#000" stroke-width="3"/>
<text x="1096.9" y="2363.9" font-size="22.8" text-anchor="end">40</text>
<line x1="1101.7" y1="2431.2" x2="1114.9" y2="2431.2" stroke="#000" stroke-width="3"/>
<text x="1096.9" y="2438.5" font-size="22.8" text-anchor="end">30</text>
<line x1="1101.7" y1="2505.4" x2="1114.9" y2="2505.4" stroke="#000" stroke-width="3"/>
<text x="1096.9" y="2512.7" font-size="22.8" text-anchor="end">20</text>
<line x1="1101.7" y1="2579.5" x2="1114.9" y2="2579.5" stroke="#000" stroke-width="3"/>
<text x="1096.9" y="2586.8" font-size="22.8" text-anchor="end">10</text>
<line x1="1101.7" y1="2654.1" x2="1114.9" y2="2654.1" stroke="#000" stroke-width="3"/>
<text x="1096.9" y="2661.4" font-size="22.8" text-anchor="end">0</text>
<line x1="1153.5" y1="2654.1" x2="1153.5" y2="2666.8" stroke="#000" stroke-width="3"/>
<line x1="1213" y1="2654.1" x2="1213" y2="2666.8" stroke="#000" stroke-width="3"/>
<line x1="1272.6" y1="2654.1" x2="1272.6" y2="2666.8" stroke="#000" stroke-width="3"/>
<text transform="translate(1055.5,2494.4) rotate(-90)" font-size="21.75" text-anchor="middle">speed at fall (rpm)</text>
</g>
</svg>
</body>
</html>
